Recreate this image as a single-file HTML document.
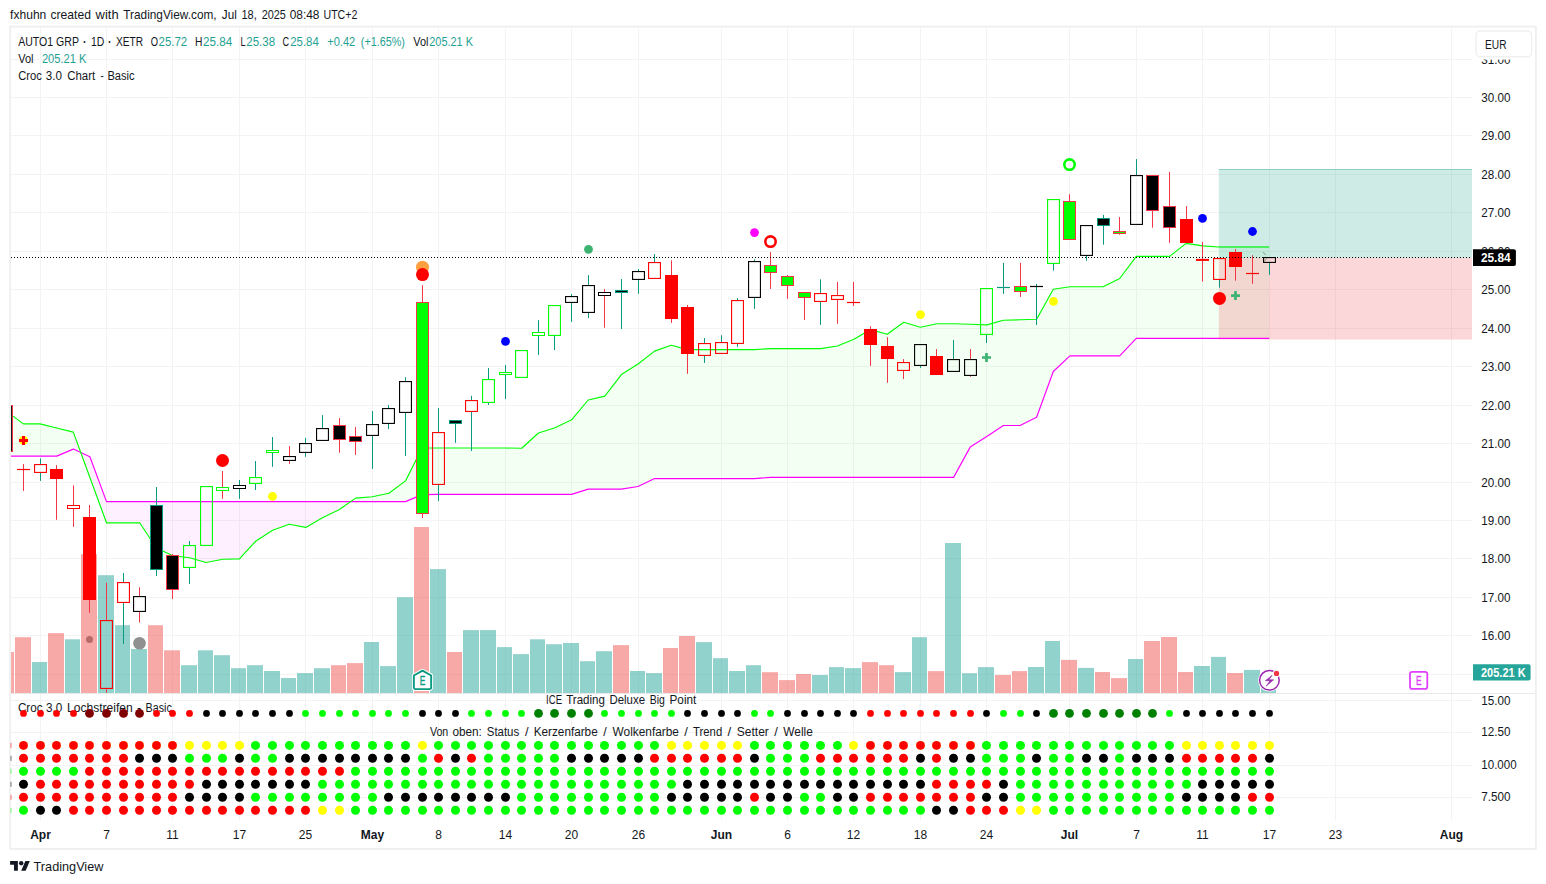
<!DOCTYPE html>
<html lang="en"><head><meta charset="utf-8"><title>AUTO1 GRP chart</title>
<style>html,body{margin:0;padding:0;background:#fff;overflow:hidden}svg{display:block}text{font-family:"Liberation Sans",sans-serif;fill:#131722}</style></head><body>
<svg width="1546" height="884" viewBox="0 0 1546 884">
<rect width="1546" height="884" fill="#fff"/>
<defs><clipPath id="cp"><rect x="10.2" y="27" width="1461.8" height="666"/></clipPath><clipPath id="cp2"><rect x="10.2" y="694" width="1461.8" height="126"/></clipPath></defs>
<g stroke="#f3f3f3" stroke-width="1" shape-rendering="crispEdges">
<line x1="40.5" y1="27.5" x2="40.5" y2="820"/>
<line x1="106.5" y1="27.5" x2="106.5" y2="820"/>
<line x1="172.5" y1="27.5" x2="172.5" y2="820"/>
<line x1="239.5" y1="27.5" x2="239.5" y2="820"/>
<line x1="305.5" y1="27.5" x2="305.5" y2="820"/>
<line x1="372.5" y1="27.5" x2="372.5" y2="820"/>
<line x1="438.5" y1="27.5" x2="438.5" y2="820"/>
<line x1="505.5" y1="27.5" x2="505.5" y2="820"/>
<line x1="571.5" y1="27.5" x2="571.5" y2="820"/>
<line x1="638.5" y1="27.5" x2="638.5" y2="820"/>
<line x1="721.5" y1="27.5" x2="721.5" y2="820"/>
<line x1="787.5" y1="27.5" x2="787.5" y2="820"/>
<line x1="853.5" y1="27.5" x2="853.5" y2="820"/>
<line x1="920.5" y1="27.5" x2="920.5" y2="820"/>
<line x1="986.5" y1="27.5" x2="986.5" y2="820"/>
<line x1="1069.5" y1="27.5" x2="1069.5" y2="820"/>
<line x1="1136.5" y1="27.5" x2="1136.5" y2="820"/>
<line x1="1202.5" y1="27.5" x2="1202.5" y2="820"/>
<line x1="1269.5" y1="27.5" x2="1269.5" y2="820"/>
<line x1="1335.5" y1="27.5" x2="1335.5" y2="820"/>
<line x1="1451.5" y1="27.5" x2="1451.5" y2="820"/>
<line x1="11" y1="674.5" x2="1472.0" y2="674.5"/>
<line x1="11" y1="635.5" x2="1472.0" y2="635.5"/>
<line x1="11" y1="597.5" x2="1472.0" y2="597.5"/>
<line x1="11" y1="558.5" x2="1472.0" y2="558.5"/>
<line x1="11" y1="520.5" x2="1472.0" y2="520.5"/>
<line x1="11" y1="482.5" x2="1472.0" y2="482.5"/>
<line x1="11" y1="443.5" x2="1472.0" y2="443.5"/>
<line x1="11" y1="405.5" x2="1472.0" y2="405.5"/>
<line x1="11" y1="366.5" x2="1472.0" y2="366.5"/>
<line x1="11" y1="328.5" x2="1472.0" y2="328.5"/>
<line x1="11" y1="289.5" x2="1472.0" y2="289.5"/>
<line x1="11" y1="251.5" x2="1472.0" y2="251.5"/>
<line x1="11" y1="212.5" x2="1472.0" y2="212.5"/>
<line x1="11" y1="174.5" x2="1472.0" y2="174.5"/>
<line x1="11" y1="135.5" x2="1472.0" y2="135.5"/>
<line x1="11" y1="97.5" x2="1472.0" y2="97.5"/>
<line x1="11" y1="59.5" x2="1472.0" y2="59.5"/>
<line x1="11" y1="700.5" x2="1472.0" y2="700.5"/>
<line x1="11" y1="732.5" x2="1472.0" y2="732.5"/>
<line x1="11" y1="765.5" x2="1472.0" y2="765.5"/>
<line x1="11" y1="797.5" x2="1472.0" y2="797.5"/>
</g>
<g clip-path="url(#cp)">
<polygon points="6.8,411.5 23.4,423.9 40.0,423.9 56.7,428.0 73.3,432.1 73.3,449.1 56.7,456.1 40.0,456.1 23.4,456.1 6.8,456.1" fill="#00ff00" fill-opacity="0.05"/>
<polygon points="73.3,432.1 89.9,477.5 106.5,522.8 123.1,522.8 139.7,522.8 156.3,548.0 172.9,555.8 189.5,557.7 206.1,562.5 222.8,559.3 239.4,558.9 256.0,541.0 272.6,530.3 289.2,524.2 305.8,527.4 322.4,517.7 339.0,509.8 339.0,501.6 322.4,501.6 305.8,501.6 289.2,501.6 272.6,501.6 256.0,501.6 239.4,501.6 222.8,501.6 206.1,501.6 189.5,501.6 172.9,501.6 156.3,501.6 139.7,501.6 123.1,501.6 106.5,501.6 89.9,456.7 73.3,449.1" fill="#ff00ff" fill-opacity="0.06"/>
<polygon points="339.0,509.8 355.6,498.1 372.2,496.7 388.9,493.2 405.5,480.9 422.1,448.0 438.7,448.0 455.3,448.0 471.9,448.0 488.5,448.0 505.1,448.0 521.7,448.2 538.4,433.0 555.0,427.7 571.6,419.8 588.2,400.0 604.8,396.1 621.4,374.6 638.0,364.0 654.6,351.1 671.2,345.3 687.8,349.6 704.5,349.6 721.1,349.6 737.7,349.6 754.3,349.6 770.9,348.6 787.5,348.6 804.1,348.6 820.7,348.6 837.3,346.0 853.9,339.3 870.6,329.6 887.2,334.3 903.8,322.3 920.4,327.2 937.0,323.7 953.6,323.7 970.2,324.3 986.8,324.9 1003.4,320.2 1020.0,319.8 1036.6,319.3 1053.3,289.3 1069.9,286.7 1086.5,286.7 1103.1,286.7 1119.7,278.5 1136.3,256.4 1152.9,256.4 1169.5,256.4 1186.1,243.4 1202.8,245.9 1219.4,247.0 1236.0,247.0 1252.6,247.0 1269.2,247.0 1269.2,338.3 1252.6,338.3 1236.0,338.3 1219.4,338.3 1202.8,338.3 1186.1,338.3 1169.5,338.3 1152.9,338.3 1136.3,338.3 1119.7,355.8 1103.1,355.8 1086.5,355.8 1069.9,355.8 1053.3,371.5 1036.6,417.3 1020.0,425.5 1003.4,425.5 986.8,436.6 970.2,447.1 953.6,477.4 937.0,477.4 920.4,477.4 903.8,477.4 887.2,477.4 870.6,477.4 853.9,477.4 837.3,477.4 820.7,477.4 804.1,477.4 787.5,477.4 770.9,477.4 754.3,478.6 737.7,478.6 721.1,478.6 704.5,478.6 687.8,478.6 671.2,478.6 654.6,478.6 638.0,486.5 621.4,489.1 604.8,489.1 588.2,489.1 571.6,494.4 555.0,494.4 538.4,494.4 521.7,494.4 505.1,494.4 488.5,494.4 471.9,494.4 455.3,494.4 438.7,494.4 422.1,494.6 405.5,501.6 388.9,501.6 372.2,501.6 355.6,501.6 339.0,501.6" fill="#00ff00" fill-opacity="0.05"/>
<rect x="1218.8" y="169.2" width="253.2" height="88.7" fill="#089981" fill-opacity="0.2"/>
<rect x="1218.8" y="257.9" width="253.2" height="81.7" fill="#f23645" fill-opacity="0.2"/>
<line x1="1218.8" y1="169.5" x2="1472.0" y2="169.5" stroke="#089981" stroke-opacity="0.35" stroke-width="1"/>
<polyline fill="none" stroke="#ff00ff" stroke-width="1.15" stroke-linejoin="round" points="6.8,456.1 23.4,456.1 40.0,456.1 56.7,456.1 73.3,449.1 89.9,456.7 106.5,501.6 123.1,501.6 139.7,501.6 156.3,501.6 172.9,501.6 189.5,501.6 206.1,501.6 222.8,501.6 239.4,501.6 256.0,501.6 272.6,501.6 289.2,501.6 305.8,501.6 322.4,501.6 339.0,501.6 355.6,501.6 372.2,501.6 388.9,501.6 405.5,501.6 422.1,494.6 438.7,494.4 455.3,494.4 471.9,494.4 488.5,494.4 505.1,494.4 521.7,494.4 538.4,494.4 555.0,494.4 571.6,494.4 588.2,489.1 604.8,489.1 621.4,489.1 638.0,486.5 654.6,478.6 671.2,478.6 687.8,478.6 704.5,478.6 721.1,478.6 737.7,478.6 754.3,478.6 770.9,477.4 787.5,477.4 804.1,477.4 820.7,477.4 837.3,477.4 853.9,477.4 870.6,477.4 887.2,477.4 903.8,477.4 920.4,477.4 937.0,477.4 953.6,477.4 970.2,447.1 986.8,436.6 1003.4,425.5 1020.0,425.5 1036.6,417.3 1053.3,371.5 1069.9,355.8 1086.5,355.8 1103.1,355.8 1119.7,355.8 1136.3,338.3 1152.9,338.3 1169.5,338.3 1186.1,338.3 1202.8,338.3 1219.4,338.3 1236.0,338.3 1252.6,338.3 1269.2,338.3"/>
<polyline fill="none" stroke="#00ff00" stroke-width="1.15" stroke-linejoin="round" points="6.8,411.5 23.4,423.9 40.0,423.9 56.7,428.0 73.3,432.1 89.9,477.5 106.5,522.8 123.1,522.8 139.7,522.8 156.3,548.0 172.9,555.8 189.5,557.7 206.1,562.5 222.8,559.3 239.4,558.9 256.0,541.0 272.6,530.3 289.2,524.2 305.8,527.4 322.4,517.7 339.0,509.8 355.6,498.1 372.2,496.7 388.9,493.2 405.5,480.9 422.1,448.0 438.7,448.0 455.3,448.0 471.9,448.0 488.5,448.0 505.1,448.0 521.7,448.2 538.4,433.0 555.0,427.7 571.6,419.8 588.2,400.0 604.8,396.1 621.4,374.6 638.0,364.0 654.6,351.1 671.2,345.3 687.8,349.6 704.5,349.6 721.1,349.6 737.7,349.6 754.3,349.6 770.9,348.6 787.5,348.6 804.1,348.6 820.7,348.6 837.3,346.0 853.9,339.3 870.6,329.6 887.2,334.3 903.8,322.3 920.4,327.2 937.0,323.7 953.6,323.7 970.2,324.3 986.8,324.9 1003.4,320.2 1020.0,319.8 1036.6,319.3 1053.3,289.3 1069.9,286.7 1086.5,286.7 1103.1,286.7 1119.7,278.5 1136.3,256.4 1152.9,256.4 1169.5,256.4 1186.1,243.4 1202.8,245.9 1219.4,247.0 1236.0,247.0 1252.6,247.0 1269.2,247.0"/>
<line x1="1219" y1="247" x2="1269" y2="247" stroke="#4cf060" stroke-width="2.2"/>
<path d="M1263 252.3l2.7 2.4M1264.4 260.9l2.4 -2.2" stroke="#8a8a8a" stroke-width="1" fill="none"/>
<circle cx="89.5" cy="639.5" r="3.5" fill="#808080"/>
<rect x="-2.0" y="652.0" width="16.0" height="41.0" fill="#ef5350" fill-opacity="0.5"/>
<rect x="15.0" y="637.2" width="16.0" height="55.8" fill="#ef5350" fill-opacity="0.5"/>
<rect x="32.0" y="662.0" width="15.0" height="31.0" fill="#26a69a" fill-opacity="0.5"/>
<rect x="48.0" y="633.1" width="16.0" height="59.9" fill="#ef5350" fill-opacity="0.5"/>
<rect x="65.0" y="639.3" width="15.0" height="53.7" fill="#26a69a" fill-opacity="0.5"/>
<rect x="81.0" y="554.2" width="16.0" height="138.8" fill="#ef5350" fill-opacity="0.5"/>
<rect x="98.0" y="575.2" width="16.0" height="117.8" fill="#26a69a" fill-opacity="0.5"/>
<rect x="115.0" y="625.2" width="15.0" height="67.8" fill="#26a69a" fill-opacity="0.5"/>
<rect x="131.0" y="649.0" width="16.0" height="44.0" fill="#26a69a" fill-opacity="0.5"/>
<rect x="148.0" y="625.2" width="15.0" height="67.8" fill="#ef5350" fill-opacity="0.5"/>
<rect x="164.0" y="650.3" width="16.0" height="42.7" fill="#ef5350" fill-opacity="0.5"/>
<rect x="181.0" y="665.2" width="16.0" height="27.8" fill="#26a69a" fill-opacity="0.5"/>
<rect x="198.0" y="650.3" width="15.0" height="42.7" fill="#26a69a" fill-opacity="0.5"/>
<rect x="214.0" y="655.2" width="16.0" height="37.8" fill="#26a69a" fill-opacity="0.5"/>
<rect x="231.0" y="668.2" width="15.0" height="24.8" fill="#26a69a" fill-opacity="0.5"/>
<rect x="247.0" y="665.2" width="16.0" height="27.8" fill="#26a69a" fill-opacity="0.5"/>
<rect x="264.0" y="671.0" width="16.0" height="22.0" fill="#26a69a" fill-opacity="0.5"/>
<rect x="281.0" y="678.0" width="15.0" height="15.0" fill="#26a69a" fill-opacity="0.5"/>
<rect x="297.0" y="673.1" width="16.0" height="19.9" fill="#26a69a" fill-opacity="0.5"/>
<rect x="314.0" y="668.2" width="16.0" height="24.8" fill="#26a69a" fill-opacity="0.5"/>
<rect x="331.0" y="665.2" width="15.0" height="27.8" fill="#ef5350" fill-opacity="0.5"/>
<rect x="347.0" y="663.1" width="16.0" height="29.9" fill="#ef5350" fill-opacity="0.5"/>
<rect x="364.0" y="642.0" width="15.0" height="51.0" fill="#26a69a" fill-opacity="0.5"/>
<rect x="380.0" y="666.1" width="16.0" height="26.9" fill="#26a69a" fill-opacity="0.5"/>
<rect x="397.0" y="597.2" width="16.0" height="95.8" fill="#26a69a" fill-opacity="0.5"/>
<rect x="414.0" y="527.0" width="15.0" height="166.0" fill="#ef5350" fill-opacity="0.5"/>
<rect x="430.0" y="569.1" width="16.0" height="123.9" fill="#26a69a" fill-opacity="0.5"/>
<rect x="447.0" y="652.0" width="15.0" height="41.0" fill="#ef5350" fill-opacity="0.5"/>
<rect x="463.0" y="630.1" width="16.0" height="62.9" fill="#26a69a" fill-opacity="0.5"/>
<rect x="480.0" y="630.1" width="16.0" height="62.9" fill="#26a69a" fill-opacity="0.5"/>
<rect x="497.0" y="647.1" width="15.0" height="45.9" fill="#26a69a" fill-opacity="0.5"/>
<rect x="513.0" y="654.1" width="16.0" height="38.9" fill="#26a69a" fill-opacity="0.5"/>
<rect x="530.0" y="639.3" width="15.0" height="53.7" fill="#26a69a" fill-opacity="0.5"/>
<rect x="546.0" y="644.2" width="16.0" height="48.8" fill="#26a69a" fill-opacity="0.5"/>
<rect x="563.0" y="643.0" width="16.0" height="50.0" fill="#26a69a" fill-opacity="0.5"/>
<rect x="580.0" y="661.2" width="15.0" height="31.8" fill="#26a69a" fill-opacity="0.5"/>
<rect x="596.0" y="651.2" width="16.0" height="41.8" fill="#26a69a" fill-opacity="0.5"/>
<rect x="613.0" y="645.1" width="16.0" height="47.9" fill="#ef5350" fill-opacity="0.5"/>
<rect x="630.0" y="671.0" width="15.0" height="22.0" fill="#26a69a" fill-opacity="0.5"/>
<rect x="646.0" y="673.1" width="16.0" height="19.9" fill="#26a69a" fill-opacity="0.5"/>
<rect x="663.0" y="648.0" width="15.0" height="45.0" fill="#ef5350" fill-opacity="0.5"/>
<rect x="679.0" y="636.0" width="16.0" height="57.0" fill="#ef5350" fill-opacity="0.5"/>
<rect x="696.0" y="642.1" width="16.0" height="50.9" fill="#26a69a" fill-opacity="0.5"/>
<rect x="713.0" y="658.2" width="15.0" height="34.8" fill="#26a69a" fill-opacity="0.5"/>
<rect x="729.0" y="671.0" width="16.0" height="22.0" fill="#26a69a" fill-opacity="0.5"/>
<rect x="746.0" y="665.2" width="15.0" height="27.8" fill="#26a69a" fill-opacity="0.5"/>
<rect x="762.0" y="672.2" width="16.0" height="20.8" fill="#ef5350" fill-opacity="0.5"/>
<rect x="779.0" y="680.1" width="16.0" height="12.9" fill="#ef5350" fill-opacity="0.5"/>
<rect x="796.0" y="674.0" width="15.0" height="19.0" fill="#ef5350" fill-opacity="0.5"/>
<rect x="812.0" y="675.0" width="16.0" height="18.0" fill="#26a69a" fill-opacity="0.5"/>
<rect x="829.0" y="667.1" width="15.0" height="25.9" fill="#26a69a" fill-opacity="0.5"/>
<rect x="845.0" y="668.1" width="16.0" height="24.9" fill="#26a69a" fill-opacity="0.5"/>
<rect x="862.0" y="662.1" width="16.0" height="30.9" fill="#ef5350" fill-opacity="0.5"/>
<rect x="879.0" y="665.2" width="15.0" height="27.8" fill="#ef5350" fill-opacity="0.5"/>
<rect x="895.0" y="672.1" width="16.0" height="20.9" fill="#26a69a" fill-opacity="0.5"/>
<rect x="912.0" y="637.2" width="15.0" height="55.8" fill="#26a69a" fill-opacity="0.5"/>
<rect x="928.0" y="671.1" width="16.0" height="21.9" fill="#ef5350" fill-opacity="0.5"/>
<rect x="945.0" y="543.0" width="16.0" height="150.0" fill="#26a69a" fill-opacity="0.5"/>
<rect x="962.0" y="673.2" width="15.0" height="19.8" fill="#26a69a" fill-opacity="0.5"/>
<rect x="978.0" y="667.1" width="16.0" height="25.9" fill="#26a69a" fill-opacity="0.5"/>
<rect x="995.0" y="675.0" width="16.0" height="18.0" fill="#ef5350" fill-opacity="0.5"/>
<rect x="1012.0" y="671.1" width="15.0" height="21.9" fill="#ef5350" fill-opacity="0.5"/>
<rect x="1028.0" y="667.0" width="16.0" height="26.0" fill="#26a69a" fill-opacity="0.5"/>
<rect x="1045.0" y="641.0" width="15.0" height="52.0" fill="#26a69a" fill-opacity="0.5"/>
<rect x="1061.0" y="659.9" width="16.0" height="33.1" fill="#ef5350" fill-opacity="0.5"/>
<rect x="1078.0" y="667.9" width="16.0" height="25.1" fill="#26a69a" fill-opacity="0.5"/>
<rect x="1095.0" y="672.0" width="15.0" height="21.0" fill="#ef5350" fill-opacity="0.5"/>
<rect x="1111.0" y="678.1" width="16.0" height="14.9" fill="#ef5350" fill-opacity="0.5"/>
<rect x="1128.0" y="659.0" width="15.0" height="34.0" fill="#26a69a" fill-opacity="0.5"/>
<rect x="1144.0" y="641.0" width="16.0" height="52.0" fill="#ef5350" fill-opacity="0.5"/>
<rect x="1161.0" y="637.0" width="16.0" height="56.0" fill="#ef5350" fill-opacity="0.5"/>
<rect x="1178.0" y="672.0" width="15.0" height="21.0" fill="#ef5350" fill-opacity="0.5"/>
<rect x="1194.0" y="666.0" width="16.0" height="27.0" fill="#26a69a" fill-opacity="0.5"/>
<rect x="1211.0" y="656.9" width="15.0" height="36.1" fill="#26a69a" fill-opacity="0.5"/>
<rect x="1227.0" y="673.0" width="16.0" height="20.0" fill="#ef5350" fill-opacity="0.5"/>
<rect x="1244.0" y="669.9" width="16.0" height="23.1" fill="#26a69a" fill-opacity="0.5"/>
<rect x="1261.0" y="676.0" width="15.0" height="17.0" fill="#26a69a" fill-opacity="0.5"/>
<rect x="6.0" y="400.0" width="1" height="5.0" fill="#f23645"/>
<rect x="6.0" y="452.0" width="1" height="6.0" fill="#f23645"/>
<rect x="0.5" y="405.5" width="12" height="46.0" fill="#000000" stroke="#f23645" stroke-width="1"/>
<rect x="23.0" y="464.0" width="1" height="5.5" fill="#f23645"/>
<rect x="23.0" y="469.5" width="1" height="21.4" fill="#f23645"/>
<rect x="17.0" y="468.9" width="13" height="1.2" fill="#ff0000"/>
<rect x="40.0" y="458.4" width="1" height="5.6" fill="#089981"/>
<rect x="40.0" y="473.0" width="1" height="7.9" fill="#089981"/>
<rect x="34.58" y="464.57" width="11.85" height="7.85" fill="none" stroke="#ff0000" stroke-width="1.1"/>
<rect x="56.0" y="465.1" width="1" height="3.9" fill="#f23645"/>
<rect x="56.0" y="479.0" width="1" height="40.8" fill="#f23645"/>
<rect x="50.0" y="469.0" width="13" height="10.0" fill="#ff0000"/>
<rect x="73.0" y="485.3" width="1" height="19.7" fill="#f23645"/>
<rect x="73.0" y="509.0" width="1" height="17.8" fill="#f23645"/>
<rect x="67.50" y="505.50" width="12.00" height="3.00" fill="none" stroke="#ff0000" stroke-width="1.0"/>
<rect x="89.0" y="505.0" width="1" height="12.0" fill="#f23645"/>
<rect x="89.0" y="600.0" width="1" height="12.7" fill="#f23645"/>
<rect x="83.0" y="517.0" width="13" height="83.0" fill="#ff0000"/>
<rect x="106.0" y="582.8" width="1" height="37.2" fill="#f23645"/>
<rect x="106.0" y="689.0" width="1" height="3.8" fill="#f23645"/>
<rect x="100.58" y="620.58" width="11.85" height="67.85" fill="none" stroke="#ff0000" stroke-width="1.1"/>
<rect x="123.0" y="573.0" width="1" height="9.0" fill="#089981"/>
<rect x="123.0" y="603.0" width="1" height="40.9" fill="#089981"/>
<rect x="117.58" y="582.58" width="11.85" height="19.85" fill="none" stroke="#ff0000" stroke-width="1.1"/>
<rect x="139.0" y="587.2" width="1" height="8.8" fill="#f23645"/>
<rect x="139.0" y="612.0" width="1" height="10.6" fill="#f23645"/>
<rect x="133.57" y="596.58" width="11.85" height="14.85" fill="none" stroke="#000000" stroke-width="1.1"/>
<rect x="156.0" y="487.0" width="1" height="18.0" fill="#089981"/>
<rect x="156.0" y="570.0" width="1" height="6.0" fill="#089981"/>
<rect x="150.5" y="505.5" width="12" height="64.0" fill="#000000" stroke="#089981" stroke-width="1"/>
<rect x="172.0" y="554.0" width="1" height="1.0" fill="#f23645"/>
<rect x="172.0" y="590.0" width="1" height="9.0" fill="#f23645"/>
<rect x="166.5" y="555.5" width="12" height="34.0" fill="#000000" stroke="#f23645" stroke-width="1"/>
<rect x="189.0" y="541.0" width="1" height="4.0" fill="#089981"/>
<rect x="189.0" y="568.0" width="1" height="15.9" fill="#089981"/>
<rect x="183.57" y="545.58" width="11.85" height="21.85" fill="none" stroke="#00ff00" stroke-width="1.1"/>
<rect x="200.57" y="486.57" width="11.85" height="58.85" fill="none" stroke="#00ff00" stroke-width="1.1"/>
<rect x="222.0" y="471.0" width="1" height="16.0" fill="#f23645"/>
<rect x="222.0" y="491.0" width="1" height="7.8" fill="#f23645"/>
<rect x="216.50" y="487.50" width="12.00" height="3.00" fill="none" stroke="#00ff00" stroke-width="1.0"/>
<rect x="239.0" y="480.0" width="1" height="5.0" fill="#089981"/>
<rect x="239.0" y="489.0" width="1" height="9.8" fill="#089981"/>
<rect x="233.50" y="485.50" width="12.00" height="3.00" fill="none" stroke="#000000" stroke-width="1.0"/>
<rect x="255.0" y="461.0" width="1" height="16.0" fill="#089981"/>
<rect x="255.0" y="484.0" width="1" height="6.0" fill="#089981"/>
<rect x="249.57" y="477.57" width="11.85" height="5.85" fill="none" stroke="#00ff00" stroke-width="1.1"/>
<rect x="272.0" y="437.0" width="1" height="13.0" fill="#089981"/>
<rect x="272.0" y="453.0" width="1" height="13.8" fill="#089981"/>
<rect x="266.50" y="450.50" width="12.00" height="2.00" fill="none" stroke="#00ff00" stroke-width="1.0"/>
<rect x="289.0" y="446.1" width="1" height="9.9" fill="#f23645"/>
<rect x="289.0" y="461.0" width="1" height="2.9" fill="#f23645"/>
<rect x="283.57" y="456.57" width="11.85" height="3.85" fill="none" stroke="#000000" stroke-width="1.1"/>
<rect x="305.0" y="437.9" width="1" height="5.1" fill="#089981"/>
<rect x="305.0" y="453.0" width="1" height="3.8" fill="#089981"/>
<rect x="299.57" y="443.57" width="11.85" height="8.85" fill="none" stroke="#000000" stroke-width="1.1"/>
<rect x="322.0" y="415.1" width="1" height="12.9" fill="#089981"/>
<rect x="316.57" y="428.57" width="11.85" height="11.85" fill="none" stroke="#000000" stroke-width="1.1"/>
<rect x="339.0" y="418.1" width="1" height="6.9" fill="#f23645"/>
<rect x="339.0" y="440.0" width="1" height="12.8" fill="#f23645"/>
<rect x="333.5" y="425.5" width="12" height="14.0" fill="#000000" stroke="#f23645" stroke-width="1"/>
<rect x="355.0" y="427.0" width="1" height="9.0" fill="#f23645"/>
<rect x="355.0" y="442.0" width="1" height="12.9" fill="#f23645"/>
<rect x="349.5" y="436.5" width="12" height="5.0" fill="#000000" stroke="#f23645" stroke-width="1"/>
<rect x="372.0" y="411.0" width="1" height="13.0" fill="#089981"/>
<rect x="372.0" y="436.0" width="1" height="32.9" fill="#089981"/>
<rect x="366.57" y="424.57" width="11.85" height="10.85" fill="none" stroke="#000000" stroke-width="1.1"/>
<rect x="388.0" y="405.1" width="1" height="2.9" fill="#089981"/>
<rect x="388.0" y="424.0" width="1" height="5.1" fill="#089981"/>
<rect x="382.57" y="408.57" width="11.85" height="14.85" fill="none" stroke="#000000" stroke-width="1.1"/>
<rect x="405.0" y="377.2" width="1" height="3.8" fill="#089981"/>
<rect x="405.0" y="413.0" width="1" height="43.0" fill="#089981"/>
<rect x="399.57" y="381.57" width="11.85" height="30.85" fill="none" stroke="#000000" stroke-width="1.1"/>
<rect x="422.0" y="285.3" width="1" height="16.7" fill="#f23645"/>
<rect x="422.0" y="514.0" width="1" height="4.0" fill="#f23645"/>
<rect x="416.5" y="302.5" width="12" height="211.0" fill="#00ff00" stroke="#f23645" stroke-width="1"/>
<rect x="438.0" y="408.0" width="1" height="24.0" fill="#089981"/>
<rect x="438.0" y="485.0" width="1" height="16.0" fill="#089981"/>
<rect x="432.57" y="432.57" width="11.85" height="51.85" fill="none" stroke="#ff0000" stroke-width="1.1"/>
<rect x="455.0" y="424.0" width="1" height="18.8" fill="#089981"/>
<rect x="449.5" y="420.5" width="12" height="3.0" fill="#000000" stroke="#089981" stroke-width="1"/>
<rect x="471.0" y="395.8" width="1" height="4.2" fill="#089981"/>
<rect x="471.0" y="412.0" width="1" height="39.0" fill="#089981"/>
<rect x="465.57" y="400.57" width="11.85" height="10.85" fill="none" stroke="#ff0000" stroke-width="1.1"/>
<rect x="488.0" y="368.0" width="1" height="11.0" fill="#089981"/>
<rect x="488.0" y="403.0" width="1" height="2.0" fill="#089981"/>
<rect x="482.57" y="379.57" width="11.85" height="22.85" fill="none" stroke="#00ff00" stroke-width="1.1"/>
<rect x="505.0" y="365.0" width="1" height="7.0" fill="#089981"/>
<rect x="505.0" y="375.0" width="1" height="24.0" fill="#089981"/>
<rect x="499.50" y="372.50" width="12.00" height="2.00" fill="none" stroke="#00ff00" stroke-width="1.0"/>
<rect x="515.58" y="350.57" width="11.85" height="26.85" fill="none" stroke="#00ff00" stroke-width="1.1"/>
<rect x="538.0" y="320.2" width="1" height="11.8" fill="#089981"/>
<rect x="538.0" y="336.0" width="1" height="18.9" fill="#089981"/>
<rect x="532.50" y="332.50" width="12.00" height="3.00" fill="none" stroke="#00ff00" stroke-width="1.0"/>
<rect x="554.0" y="336.0" width="1" height="14.0" fill="#089981"/>
<rect x="548.58" y="305.57" width="11.85" height="29.85" fill="none" stroke="#00ff00" stroke-width="1.1"/>
<rect x="571.0" y="294.0" width="1" height="2.0" fill="#089981"/>
<rect x="571.0" y="303.0" width="1" height="18.9" fill="#089981"/>
<rect x="565.58" y="296.57" width="11.85" height="5.85" fill="none" stroke="#000000" stroke-width="1.1"/>
<rect x="588.0" y="275.1" width="1" height="9.9" fill="#089981"/>
<rect x="588.0" y="313.0" width="1" height="5.1" fill="#089981"/>
<rect x="582.58" y="285.57" width="11.85" height="26.85" fill="none" stroke="#000000" stroke-width="1.1"/>
<rect x="604.0" y="289.1" width="1" height="2.9" fill="#f23645"/>
<rect x="604.0" y="296.0" width="1" height="31.7" fill="#f23645"/>
<rect x="598.50" y="292.50" width="12.00" height="3.00" fill="none" stroke="#000000" stroke-width="1.0"/>
<rect x="621.0" y="279.0" width="1" height="11.0" fill="#089981"/>
<rect x="621.0" y="293.0" width="1" height="36.0" fill="#089981"/>
<rect x="615.5" y="290.5" width="12" height="2.0" fill="#000000" stroke="#089981" stroke-width="1"/>
<rect x="638.0" y="269.0" width="1" height="2.0" fill="#089981"/>
<rect x="638.0" y="280.0" width="1" height="13.8" fill="#089981"/>
<rect x="632.58" y="271.57" width="11.85" height="7.85" fill="none" stroke="#000000" stroke-width="1.1"/>
<rect x="654.0" y="254.1" width="1" height="7.9" fill="#089981"/>
<rect x="648.58" y="262.57" width="11.85" height="15.85" fill="none" stroke="#ff0000" stroke-width="1.1"/>
<rect x="671.0" y="260.3" width="1" height="14.7" fill="#f23645"/>
<rect x="671.0" y="319.0" width="1" height="3.9" fill="#f23645"/>
<rect x="665.0" y="275.0" width="13" height="44.0" fill="#ff0000"/>
<rect x="687.0" y="305.0" width="1" height="2.0" fill="#f23645"/>
<rect x="687.0" y="354.0" width="1" height="19.8" fill="#f23645"/>
<rect x="681.0" y="307.0" width="13" height="47.0" fill="#ff0000"/>
<rect x="704.0" y="338.0" width="1" height="5.0" fill="#089981"/>
<rect x="704.0" y="356.0" width="1" height="6.9" fill="#089981"/>
<rect x="698.58" y="343.57" width="11.85" height="11.85" fill="none" stroke="#ff0000" stroke-width="1.1"/>
<rect x="721.0" y="335.2" width="1" height="6.8" fill="#089981"/>
<rect x="715.58" y="342.57" width="11.85" height="10.85" fill="none" stroke="#ff0000" stroke-width="1.1"/>
<rect x="737.0" y="298.0" width="1" height="2.0" fill="#089981"/>
<rect x="737.0" y="344.0" width="1" height="2.8" fill="#089981"/>
<rect x="731.58" y="300.57" width="11.85" height="42.85" fill="none" stroke="#ff0000" stroke-width="1.1"/>
<rect x="754.0" y="259.4" width="1" height="1.6" fill="#089981"/>
<rect x="754.0" y="298.0" width="1" height="10.9" fill="#089981"/>
<rect x="748.58" y="261.57" width="11.85" height="35.85" fill="none" stroke="#000000" stroke-width="1.1"/>
<rect x="770.0" y="252.1" width="1" height="12.9" fill="#f23645"/>
<rect x="770.0" y="273.0" width="1" height="15.9" fill="#f23645"/>
<rect x="764.5" y="265.5" width="12" height="7.0" fill="#00ff00" stroke="#f23645" stroke-width="1"/>
<rect x="787.0" y="275.0" width="1" height="1.0" fill="#f23645"/>
<rect x="787.0" y="286.0" width="1" height="12.9" fill="#f23645"/>
<rect x="781.5" y="276.5" width="12" height="9.0" fill="#00ff00" stroke="#f23645" stroke-width="1"/>
<rect x="804.0" y="298.0" width="1" height="22.0" fill="#f23645"/>
<rect x="798.5" y="292.5" width="12" height="5.0" fill="#00ff00" stroke="#f23645" stroke-width="1"/>
<rect x="820.0" y="279.3" width="1" height="13.7" fill="#089981"/>
<rect x="820.0" y="302.0" width="1" height="22.9" fill="#089981"/>
<rect x="814.58" y="293.57" width="11.85" height="7.85" fill="none" stroke="#ff0000" stroke-width="1.1"/>
<rect x="837.0" y="281.9" width="1" height="13.1" fill="#f23645"/>
<rect x="837.0" y="300.0" width="1" height="23.8" fill="#f23645"/>
<rect x="831.58" y="295.57" width="11.85" height="3.85" fill="none" stroke="#ff0000" stroke-width="1.1"/>
<rect x="853.0" y="282.0" width="1" height="20.3" fill="#f23645"/>
<rect x="853.0" y="302.3" width="1" height="3.7" fill="#f23645"/>
<rect x="847.0" y="301.9" width="13" height="1.2" fill="#ff0000"/>
<rect x="870.0" y="326.2" width="1" height="2.8" fill="#f23645"/>
<rect x="870.0" y="345.0" width="1" height="20.9" fill="#f23645"/>
<rect x="864.0" y="329.0" width="13" height="16.0" fill="#ff0000"/>
<rect x="887.0" y="337.2" width="1" height="8.8" fill="#f23645"/>
<rect x="887.0" y="359.0" width="1" height="23.8" fill="#f23645"/>
<rect x="881.0" y="346.0" width="13" height="13.0" fill="#ff0000"/>
<rect x="903.0" y="359.1" width="1" height="2.9" fill="#f23645"/>
<rect x="903.0" y="371.0" width="1" height="8.0" fill="#f23645"/>
<rect x="897.58" y="362.57" width="11.85" height="7.85" fill="none" stroke="#ff0000" stroke-width="1.1"/>
<rect x="920.0" y="366.0" width="1" height="1.9" fill="#089981"/>
<rect x="914.58" y="344.57" width="11.85" height="20.85" fill="none" stroke="#000000" stroke-width="1.1"/>
<rect x="936.0" y="349.1" width="1" height="6.9" fill="#f23645"/>
<rect x="930.0" y="356.0" width="13" height="19.0" fill="#ff0000"/>
<rect x="953.0" y="340.0" width="1" height="19.0" fill="#089981"/>
<rect x="947.58" y="359.57" width="11.85" height="11.85" fill="none" stroke="#000000" stroke-width="1.1"/>
<rect x="970.0" y="349.1" width="1" height="9.9" fill="#f23645"/>
<rect x="970.0" y="376.0" width="1" height="0.8" fill="#f23645"/>
<rect x="964.58" y="359.57" width="11.85" height="15.85" fill="none" stroke="#000000" stroke-width="1.1"/>
<rect x="986.0" y="335.0" width="1" height="8.0" fill="#089981"/>
<rect x="980.58" y="288.57" width="11.85" height="45.85" fill="none" stroke="#00ff00" stroke-width="1.1"/>
<rect x="1003.0" y="262.8" width="1" height="24.6" fill="#089981"/>
<rect x="1003.0" y="287.4" width="1" height="6.5" fill="#089981"/>
<rect x="997.0" y="286.9" width="13" height="1.2" fill="#089981"/>
<rect x="1020.0" y="262.8" width="1" height="23.2" fill="#f23645"/>
<rect x="1020.0" y="292.0" width="1" height="5.0" fill="#f23645"/>
<rect x="1014.5" y="286.5" width="12" height="5.0" fill="#00ff00" stroke="#f23645" stroke-width="1"/>
<rect x="1036.0" y="283.9" width="1" height="2.4" fill="#089981"/>
<rect x="1036.0" y="286.3" width="1" height="38.6" fill="#089981"/>
<rect x="1030.0" y="285.9" width="13" height="1.2" fill="#000000"/>
<rect x="1053.0" y="264.0" width="1" height="6.6" fill="#089981"/>
<rect x="1047.58" y="199.57" width="11.85" height="63.85" fill="none" stroke="#00ff00" stroke-width="1.1"/>
<rect x="1069.0" y="194.2" width="1" height="6.8" fill="#f23645"/>
<rect x="1063.5" y="201.5" width="12" height="38.0" fill="#00ff00" stroke="#f23645" stroke-width="1"/>
<rect x="1086.0" y="256.0" width="1" height="4.8" fill="#089981"/>
<rect x="1080.58" y="225.57" width="11.85" height="29.85" fill="none" stroke="#000000" stroke-width="1.1"/>
<rect x="1103.0" y="214.9" width="1" height="3.1" fill="#089981"/>
<rect x="1103.0" y="226.0" width="1" height="18.7" fill="#089981"/>
<rect x="1097.5" y="218.5" width="12" height="7.0" fill="#000000" stroke="#089981" stroke-width="1"/>
<rect x="1119.0" y="217.0" width="1" height="14.0" fill="#f23645"/>
<rect x="1119.0" y="234.0" width="1" height="0.7" fill="#f23645"/>
<rect x="1113.5" y="231.5" width="12" height="2.0" fill="#00ff00" stroke="#f23645" stroke-width="1"/>
<rect x="1136.0" y="159.1" width="1" height="15.9" fill="#089981"/>
<rect x="1130.58" y="175.57" width="11.85" height="48.85" fill="none" stroke="#000000" stroke-width="1.1"/>
<rect x="1152.0" y="211.0" width="1" height="16.7" fill="#f23645"/>
<rect x="1146.5" y="175.5" width="12" height="35.0" fill="#000000" stroke="#f23645" stroke-width="1"/>
<rect x="1169.0" y="171.9" width="1" height="34.1" fill="#f23645"/>
<rect x="1169.0" y="228.0" width="1" height="14.9" fill="#f23645"/>
<rect x="1163.5" y="206.5" width="12" height="21.0" fill="#000000" stroke="#f23645" stroke-width="1"/>
<rect x="1186.0" y="206.1" width="1" height="12.9" fill="#f23645"/>
<rect x="1180.0" y="219.0" width="13" height="24.0" fill="#ff0000"/>
<rect x="1202.0" y="242.0" width="1" height="18.1" fill="#f23645"/>
<rect x="1202.0" y="260.1" width="1" height="21.4" fill="#f23645"/>
<rect x="1196.0" y="258.9" width="13" height="2.0" fill="#ff0000"/>
<rect x="1219.0" y="280.0" width="1" height="7.6" fill="#089981"/>
<rect x="1213.58" y="258.57" width="11.85" height="20.85" fill="none" stroke="#ff0000" stroke-width="1.1"/>
<rect x="1235.0" y="249.0" width="1" height="3.0" fill="#f23645"/>
<rect x="1235.0" y="267.0" width="1" height="13.6" fill="#f23645"/>
<rect x="1229.0" y="252.0" width="13" height="15.0" fill="#ff0000"/>
<rect x="1252.0" y="255.2" width="1" height="18.4" fill="#f23645"/>
<rect x="1252.0" y="273.6" width="1" height="10.2" fill="#f23645"/>
<rect x="1246.0" y="272.9" width="13" height="1.2" fill="#ff0000"/>
<rect x="1269.0" y="263.0" width="1" height="11.8" fill="#089981"/>
<rect x="1263.58" y="257.57" width="11.85" height="4.85" fill="none" stroke="#000000" stroke-width="1.1"/>
<circle cx="23.5" cy="440.4" r="4.5" fill="#ffff00"/>
<path d="M19.0 440.4h9.0M23.5 435.9v9.0" stroke="#ff0000" stroke-width="3.0" fill="none"/>
<circle cx="139.5" cy="643.3" r="6.3" fill="#909090"/>
<circle cx="222.5" cy="460.5" r="6.5" fill="#ff0000"/>
<circle cx="272.5" cy="496.4" r="4.4" fill="#ffff00"/>
<circle cx="422.5" cy="267.2" r="6.5" fill="#ffa040"/>
<circle cx="422.5" cy="274.6" r="6.5" fill="#ff0000"/>
<circle cx="505.5" cy="341.4" r="4.4" fill="#0000ff"/>
<circle cx="588.5" cy="249.3" r="4.4" fill="#3cb371"/>
<circle cx="754.5" cy="232.6" r="4.4" fill="#ff00ff"/>
<circle cx="770.5" cy="241.6" r="5.2" fill="none" stroke="#ff0000" stroke-width="2.6"/>
<circle cx="920.5" cy="314.6" r="4.4" fill="#ffff00"/>
<path d="M982.0 357.5h9.0M986.5 353.0v9.0" stroke="#3cb371" stroke-width="2.7" fill="none"/>
<circle cx="1053.5" cy="301.4" r="4.4" fill="#ffff00"/>
<circle cx="1069.5" cy="164.6" r="5.2" fill="none" stroke="#00ff00" stroke-width="2.6"/>
<circle cx="1202.5" cy="218.4" r="4.4" fill="#0000ff"/>
<circle cx="1219.5" cy="298.4" r="6.5" fill="#ff0000"/>
<path d="M1231.0 295.6h9.0M1235.5 291.1v9.0" stroke="#3cb371" stroke-width="2.7" fill="none"/>
<circle cx="1252.5" cy="231.5" r="4.4" fill="#0000ff"/>
</g>
<line x1="11" y1="257.5" x2="1472.0" y2="257.5" stroke="#000" stroke-width="1" stroke-dasharray="1 2" shape-rendering="crispEdges"/>
<path d="M413.85 687.6V675.5L422.50 670.7L431.15 675.5V687.6a1.5 1.5 0 0 1 -1.5 1.5h-14.3a1.5 1.5 0 0 1 -1.5 -1.5z" fill="#fff" stroke="#fff" stroke-width="3.8" stroke-linejoin="round"/>
<path d="M413.85 687.6V675.5L422.50 670.7L431.15 675.5V687.6a1.5 1.5 0 0 1 -1.5 1.5h-14.3a1.5 1.5 0 0 1 -1.5 -1.5z" fill="#fff" stroke="#089981" stroke-width="1.9" stroke-linejoin="round"/>
<text x="419.7" y="684.9" font-size="12.3" textLength="5.6" lengthAdjust="spacingAndGlyphs" style="fill:#089981;stroke:#089981;stroke-width:0.35">E</text>
<circle cx="1269.4" cy="680.3" r="11.2" fill="#fff"/>
<circle cx="1269.4" cy="680.3" r="9.8" fill="#fff" stroke="#9c27b0" stroke-width="1.5"/>
<path d="M1272.1 675.3L1265.4 680.7h4.7L1266.2 686.1L1273.6 679.8h-4.7z" fill="#9c27b0" stroke="#9c27b0" stroke-width="0.6" stroke-linejoin="round"/>
<circle cx="1276.5" cy="673.4" r="3.7" fill="#fff"/><circle cx="1276.5" cy="673.4" r="2.65" fill="#f23645"/>
<rect x="1410.0" y="671.8" width="17.3" height="17.1" rx="2.2" fill="#fff" stroke="#e040fb" stroke-width="1.8"/>
<text x="1416.0" y="684.8" font-size="12.3" textLength="5.6" lengthAdjust="spacingAndGlyphs" style="fill:#e040fb;stroke:#e040fb;stroke-width:0.3">E</text>
<line x1="10" y1="693.5" x2="1536" y2="693.5" stroke="#e9e9e9" stroke-width="1.2"/>
<text y="712.4" font-size="12"><tspan x="17.9" textLength="24.7" lengthAdjust="spacingAndGlyphs">Croc</tspan> <tspan x="46.1" textLength="16.3" lengthAdjust="spacingAndGlyphs">3.0</tspan> <tspan x="67.0" textLength="65.8" lengthAdjust="spacingAndGlyphs">Lochstreifen</tspan> <tspan x="136.9" textLength="4.1" lengthAdjust="spacingAndGlyphs">-</tspan> <tspan x="145.6" textLength="26.2" lengthAdjust="spacingAndGlyphs">Basic</tspan></text>
<text y="703.8" font-size="12"><tspan x="546.1" textLength="15.9" lengthAdjust="spacingAndGlyphs">ICE</tspan> <tspan x="566.2" textLength="38.7" lengthAdjust="spacingAndGlyphs">Trading</tspan> <tspan x="609.5" textLength="35.5" lengthAdjust="spacingAndGlyphs">Deluxe</tspan> <tspan x="649.7" textLength="15.1" lengthAdjust="spacingAndGlyphs">Big</tspan> <tspan x="669.5" textLength="26.8" lengthAdjust="spacingAndGlyphs">Point</tspan></text>
<text y="735.7" font-size="12"><tspan x="429.9" textLength="18.4" lengthAdjust="spacingAndGlyphs">Von</tspan> <tspan x="452.4" textLength="29.5" lengthAdjust="spacingAndGlyphs">oben:</tspan> <tspan x="486.8" textLength="32.4" lengthAdjust="spacingAndGlyphs">Status</tspan> <tspan x="524.9" textLength="3.6" lengthAdjust="spacingAndGlyphs">/</tspan> <tspan x="533.7" textLength="64.0" lengthAdjust="spacingAndGlyphs">Kerzenfarbe</tspan> <tspan x="603.3" textLength="3.5" lengthAdjust="spacingAndGlyphs">/</tspan> <tspan x="612.6" textLength="66.3" lengthAdjust="spacingAndGlyphs">Wolkenfarbe</tspan> <tspan x="684.3" textLength="3.6" lengthAdjust="spacingAndGlyphs">/</tspan> <tspan x="693.1" textLength="29.1" lengthAdjust="spacingAndGlyphs">Trend</tspan> <tspan x="727.6" textLength="3.7" lengthAdjust="spacingAndGlyphs">/</tspan> <tspan x="736.8" textLength="32.0" lengthAdjust="spacingAndGlyphs">Setter</tspan> <tspan x="774.2" textLength="3.6" lengthAdjust="spacingAndGlyphs">/</tspan> <tspan x="783.3" textLength="29.5" lengthAdjust="spacingAndGlyphs">Welle</tspan></text>
<g clip-path="url(#cp2)">
<circle cx="23.5" cy="713.4" r="3.4" fill="#ff0000"/>
<circle cx="40.5" cy="713.4" r="3.4" fill="#ff0000"/>
<circle cx="56.5" cy="713.4" r="3.4" fill="#ff0000"/>
<circle cx="73.5" cy="713.4" r="3.4" fill="#ff0000"/>
<circle cx="89.5" cy="713.4" r="4.4" fill="#800000"/>
<circle cx="106.5" cy="713.4" r="4.4" fill="#800000"/>
<circle cx="123.5" cy="713.4" r="4.4" fill="#800000"/>
<circle cx="139.5" cy="713.4" r="4.4" fill="#800000"/>
<circle cx="156.5" cy="713.4" r="3.4" fill="#ff0000"/>
<circle cx="172.5" cy="713.4" r="3.4" fill="#ff0000"/>
<circle cx="189.5" cy="713.4" r="3.4" fill="#ff0000"/>
<circle cx="206.5" cy="713.4" r="3.4" fill="#000000"/>
<circle cx="222.5" cy="713.4" r="3.4" fill="#000000"/>
<circle cx="239.5" cy="713.4" r="3.4" fill="#000000"/>
<circle cx="255.5" cy="713.4" r="3.4" fill="#000000"/>
<circle cx="272.5" cy="713.4" r="3.4" fill="#000000"/>
<circle cx="289.5" cy="713.4" r="3.4" fill="#000000"/>
<circle cx="305.5" cy="713.4" r="3.4" fill="#00ff00"/>
<circle cx="322.5" cy="713.4" r="3.4" fill="#00ff00"/>
<circle cx="339.5" cy="713.4" r="3.4" fill="#00ff00"/>
<circle cx="355.5" cy="713.4" r="3.4" fill="#00ff00"/>
<circle cx="372.5" cy="713.4" r="3.4" fill="#00ff00"/>
<circle cx="388.5" cy="713.4" r="3.4" fill="#00ff00"/>
<circle cx="405.5" cy="713.4" r="3.4" fill="#00ff00"/>
<circle cx="422.5" cy="713.4" r="3.4" fill="#000000"/>
<circle cx="438.5" cy="713.4" r="3.4" fill="#000000"/>
<circle cx="455.5" cy="713.4" r="3.4" fill="#000000"/>
<circle cx="471.5" cy="713.4" r="3.4" fill="#00ff00"/>
<circle cx="488.5" cy="713.4" r="3.4" fill="#00ff00"/>
<circle cx="505.5" cy="713.4" r="3.4" fill="#00ff00"/>
<circle cx="521.5" cy="713.4" r="3.4" fill="#00ff00"/>
<circle cx="538.5" cy="713.4" r="4.4" fill="#008000"/>
<circle cx="554.5" cy="713.4" r="4.4" fill="#008000"/>
<circle cx="571.5" cy="713.4" r="4.4" fill="#008000"/>
<circle cx="588.5" cy="713.4" r="4.4" fill="#008000"/>
<circle cx="604.5" cy="713.4" r="3.4" fill="#00ff00"/>
<circle cx="621.5" cy="713.4" r="3.4" fill="#00ff00"/>
<circle cx="638.5" cy="713.4" r="3.4" fill="#00ff00"/>
<circle cx="654.5" cy="713.4" r="3.4" fill="#00ff00"/>
<circle cx="671.5" cy="713.4" r="3.4" fill="#00ff00"/>
<circle cx="687.5" cy="713.4" r="3.4" fill="#000000"/>
<circle cx="704.5" cy="713.4" r="3.4" fill="#000000"/>
<circle cx="721.5" cy="713.4" r="3.4" fill="#000000"/>
<circle cx="737.5" cy="713.4" r="3.4" fill="#000000"/>
<circle cx="754.5" cy="713.4" r="3.4" fill="#00ff00"/>
<circle cx="770.5" cy="713.4" r="3.4" fill="#00ff00"/>
<circle cx="787.5" cy="713.4" r="3.4" fill="#000000"/>
<circle cx="804.5" cy="713.4" r="3.4" fill="#000000"/>
<circle cx="820.5" cy="713.4" r="3.4" fill="#000000"/>
<circle cx="837.5" cy="713.4" r="3.4" fill="#000000"/>
<circle cx="853.5" cy="713.4" r="3.4" fill="#000000"/>
<circle cx="870.5" cy="713.4" r="3.4" fill="#ff0000"/>
<circle cx="887.5" cy="713.4" r="3.4" fill="#ff0000"/>
<circle cx="903.5" cy="713.4" r="3.4" fill="#ff0000"/>
<circle cx="920.5" cy="713.4" r="3.4" fill="#ff0000"/>
<circle cx="936.5" cy="713.4" r="3.4" fill="#ff0000"/>
<circle cx="953.5" cy="713.4" r="3.4" fill="#ff0000"/>
<circle cx="970.5" cy="713.4" r="3.4" fill="#ff0000"/>
<circle cx="986.5" cy="713.4" r="3.4" fill="#000000"/>
<circle cx="1003.5" cy="713.4" r="3.4" fill="#00ff00"/>
<circle cx="1020.5" cy="713.4" r="3.4" fill="#00ff00"/>
<circle cx="1036.5" cy="713.4" r="3.4" fill="#000000"/>
<circle cx="1053.5" cy="713.4" r="4.4" fill="#008000"/>
<circle cx="1069.5" cy="713.4" r="4.4" fill="#008000"/>
<circle cx="1086.5" cy="713.4" r="4.4" fill="#008000"/>
<circle cx="1103.5" cy="713.4" r="4.4" fill="#008000"/>
<circle cx="1119.5" cy="713.4" r="4.4" fill="#008000"/>
<circle cx="1136.5" cy="713.4" r="4.4" fill="#008000"/>
<circle cx="1152.5" cy="713.4" r="4.4" fill="#008000"/>
<circle cx="1169.5" cy="713.4" r="3.4" fill="#00ff00"/>
<circle cx="1186.5" cy="713.4" r="3.4" fill="#000000"/>
<circle cx="1202.5" cy="713.4" r="3.4" fill="#000000"/>
<circle cx="1219.5" cy="713.4" r="3.4" fill="#000000"/>
<circle cx="1235.5" cy="713.4" r="3.4" fill="#000000"/>
<circle cx="1252.5" cy="713.4" r="3.4" fill="#000000"/>
<circle cx="1269.5" cy="713.4" r="3.4" fill="#000000"/>
<circle cx="6.5" cy="745.4" r="4.5" fill="#ff6a00"/>
<circle cx="6.5" cy="745.4" r="4.1" fill="#ff0000"/>
<circle cx="23.5" cy="745.4" r="4.5" fill="#ff6a00"/>
<circle cx="23.5" cy="745.4" r="4.1" fill="#ff0000"/>
<circle cx="40.5" cy="745.4" r="4.5" fill="#ff6a00"/>
<circle cx="40.5" cy="745.4" r="4.1" fill="#ff0000"/>
<circle cx="56.5" cy="745.4" r="4.5" fill="#ff6a00"/>
<circle cx="56.5" cy="745.4" r="4.1" fill="#ff0000"/>
<circle cx="73.5" cy="745.4" r="4.5" fill="#ff6a00"/>
<circle cx="73.5" cy="745.4" r="4.1" fill="#ff0000"/>
<circle cx="89.5" cy="745.4" r="4.5" fill="#ff6a00"/>
<circle cx="89.5" cy="745.4" r="4.1" fill="#ff0000"/>
<circle cx="106.5" cy="745.4" r="4.5" fill="#ff6a00"/>
<circle cx="106.5" cy="745.4" r="4.1" fill="#ff0000"/>
<circle cx="123.5" cy="745.4" r="4.5" fill="#ff6a00"/>
<circle cx="123.5" cy="745.4" r="4.1" fill="#ff0000"/>
<circle cx="139.5" cy="745.4" r="4.5" fill="#ff6a00"/>
<circle cx="139.5" cy="745.4" r="4.1" fill="#ff0000"/>
<circle cx="156.5" cy="745.4" r="4.5" fill="#ff6a00"/>
<circle cx="156.5" cy="745.4" r="4.1" fill="#ff0000"/>
<circle cx="172.5" cy="745.4" r="4.5" fill="#ff6a00"/>
<circle cx="172.5" cy="745.4" r="4.1" fill="#ff0000"/>
<circle cx="189.5" cy="745.4" r="4.5" fill="#ffff00"/>
<circle cx="206.5" cy="745.4" r="4.5" fill="#ffff00"/>
<circle cx="222.5" cy="745.4" r="4.5" fill="#ffff00"/>
<circle cx="239.5" cy="745.4" r="4.5" fill="#ffff00"/>
<circle cx="255.5" cy="745.4" r="4.5" fill="#00ff00"/>
<circle cx="272.5" cy="745.4" r="4.5" fill="#00ff00"/>
<circle cx="289.5" cy="745.4" r="4.5" fill="#00ff00"/>
<circle cx="305.5" cy="745.4" r="4.5" fill="#00ff00"/>
<circle cx="322.5" cy="745.4" r="4.5" fill="#00ff00"/>
<circle cx="339.5" cy="745.4" r="4.5" fill="#00ff00"/>
<circle cx="355.5" cy="745.4" r="4.5" fill="#00ff00"/>
<circle cx="372.5" cy="745.4" r="4.5" fill="#00ff00"/>
<circle cx="388.5" cy="745.4" r="4.5" fill="#00ff00"/>
<circle cx="405.5" cy="745.4" r="4.5" fill="#00ff00"/>
<circle cx="422.5" cy="745.4" r="4.5" fill="#ffff00"/>
<circle cx="438.5" cy="745.4" r="4.5" fill="#00ff00"/>
<circle cx="455.5" cy="745.4" r="4.5" fill="#00ff00"/>
<circle cx="471.5" cy="745.4" r="4.5" fill="#00ff00"/>
<circle cx="488.5" cy="745.4" r="4.5" fill="#00ff00"/>
<circle cx="505.5" cy="745.4" r="4.5" fill="#00ff00"/>
<circle cx="521.5" cy="745.4" r="4.5" fill="#00ff00"/>
<circle cx="538.5" cy="745.4" r="4.5" fill="#00ff00"/>
<circle cx="554.5" cy="745.4" r="4.5" fill="#00ff00"/>
<circle cx="571.5" cy="745.4" r="4.5" fill="#00ff00"/>
<circle cx="588.5" cy="745.4" r="4.5" fill="#00ff00"/>
<circle cx="604.5" cy="745.4" r="4.5" fill="#00ff00"/>
<circle cx="621.5" cy="745.4" r="4.5" fill="#00ff00"/>
<circle cx="638.5" cy="745.4" r="4.5" fill="#00ff00"/>
<circle cx="654.5" cy="745.4" r="4.5" fill="#00ff00"/>
<circle cx="671.5" cy="745.4" r="4.5" fill="#ffff00"/>
<circle cx="687.5" cy="745.4" r="4.5" fill="#ffff00"/>
<circle cx="704.5" cy="745.4" r="4.5" fill="#ffff00"/>
<circle cx="721.5" cy="745.4" r="4.5" fill="#ffff00"/>
<circle cx="737.5" cy="745.4" r="4.5" fill="#ffff00"/>
<circle cx="754.5" cy="745.4" r="4.5" fill="#00ff00"/>
<circle cx="770.5" cy="745.4" r="4.5" fill="#00ff00"/>
<circle cx="787.5" cy="745.4" r="4.5" fill="#00ff00"/>
<circle cx="804.5" cy="745.4" r="4.5" fill="#00ff00"/>
<circle cx="820.5" cy="745.4" r="4.5" fill="#00ff00"/>
<circle cx="837.5" cy="745.4" r="4.5" fill="#00ff00"/>
<circle cx="853.5" cy="745.4" r="4.5" fill="#ffff00"/>
<circle cx="870.5" cy="745.4" r="4.5" fill="#ff6a00"/>
<circle cx="870.5" cy="745.4" r="4.1" fill="#ff0000"/>
<circle cx="887.5" cy="745.4" r="4.5" fill="#ff6a00"/>
<circle cx="887.5" cy="745.4" r="4.1" fill="#ff0000"/>
<circle cx="903.5" cy="745.4" r="4.5" fill="#ff6a00"/>
<circle cx="903.5" cy="745.4" r="4.1" fill="#ff0000"/>
<circle cx="920.5" cy="745.4" r="4.5" fill="#ff6a00"/>
<circle cx="920.5" cy="745.4" r="4.1" fill="#ff0000"/>
<circle cx="936.5" cy="745.4" r="4.5" fill="#ff6a00"/>
<circle cx="936.5" cy="745.4" r="4.1" fill="#ff0000"/>
<circle cx="953.5" cy="745.4" r="4.5" fill="#ff6a00"/>
<circle cx="953.5" cy="745.4" r="4.1" fill="#ff0000"/>
<circle cx="970.5" cy="745.4" r="4.5" fill="#ff6a00"/>
<circle cx="970.5" cy="745.4" r="4.1" fill="#ff0000"/>
<circle cx="986.5" cy="745.4" r="4.5" fill="#00ff00"/>
<circle cx="1003.5" cy="745.4" r="4.5" fill="#00ff00"/>
<circle cx="1020.5" cy="745.4" r="4.5" fill="#00ff00"/>
<circle cx="1036.5" cy="745.4" r="4.5" fill="#00ff00"/>
<circle cx="1053.5" cy="745.4" r="4.5" fill="#00ff00"/>
<circle cx="1069.5" cy="745.4" r="4.5" fill="#00ff00"/>
<circle cx="1086.5" cy="745.4" r="4.5" fill="#00ff00"/>
<circle cx="1103.5" cy="745.4" r="4.5" fill="#00ff00"/>
<circle cx="1119.5" cy="745.4" r="4.5" fill="#00ff00"/>
<circle cx="1136.5" cy="745.4" r="4.5" fill="#00ff00"/>
<circle cx="1152.5" cy="745.4" r="4.5" fill="#00ff00"/>
<circle cx="1169.5" cy="745.4" r="4.5" fill="#00ff00"/>
<circle cx="1186.5" cy="745.4" r="4.5" fill="#ffff00"/>
<circle cx="1202.5" cy="745.4" r="4.5" fill="#ffff00"/>
<circle cx="1219.5" cy="745.4" r="4.5" fill="#ffff00"/>
<circle cx="1235.5" cy="745.4" r="4.5" fill="#ffff00"/>
<circle cx="1252.5" cy="745.4" r="4.5" fill="#ffff00"/>
<circle cx="1269.5" cy="745.4" r="4.5" fill="#ffff00"/>
<circle cx="6.5" cy="758.3" r="4.5" fill="#000000"/>
<circle cx="23.5" cy="758.3" r="4.5" fill="#ff0000"/>
<circle cx="40.5" cy="758.3" r="4.5" fill="#ff0000"/>
<circle cx="56.5" cy="758.3" r="4.5" fill="#ff0000"/>
<circle cx="73.5" cy="758.3" r="4.5" fill="#ff0000"/>
<circle cx="89.5" cy="758.3" r="4.5" fill="#ff0000"/>
<circle cx="106.5" cy="758.3" r="4.5" fill="#ff0000"/>
<circle cx="123.5" cy="758.3" r="4.5" fill="#ff0000"/>
<circle cx="139.5" cy="758.3" r="4.5" fill="#000000"/>
<circle cx="156.5" cy="758.3" r="4.5" fill="#000000"/>
<circle cx="172.5" cy="758.3" r="4.5" fill="#000000"/>
<circle cx="189.5" cy="758.3" r="4.5" fill="#00ff00"/>
<circle cx="206.5" cy="758.3" r="4.5" fill="#00ff00"/>
<circle cx="222.5" cy="758.3" r="4.5" fill="#00ff00"/>
<circle cx="239.5" cy="758.3" r="4.5" fill="#000000"/>
<circle cx="255.5" cy="758.3" r="4.5" fill="#00ff00"/>
<circle cx="272.5" cy="758.3" r="4.5" fill="#00ff00"/>
<circle cx="289.5" cy="758.3" r="4.5" fill="#000000"/>
<circle cx="305.5" cy="758.3" r="4.5" fill="#000000"/>
<circle cx="322.5" cy="758.3" r="4.5" fill="#000000"/>
<circle cx="339.5" cy="758.3" r="4.5" fill="#000000"/>
<circle cx="355.5" cy="758.3" r="4.5" fill="#000000"/>
<circle cx="372.5" cy="758.3" r="4.5" fill="#000000"/>
<circle cx="388.5" cy="758.3" r="4.5" fill="#000000"/>
<circle cx="405.5" cy="758.3" r="4.5" fill="#000000"/>
<circle cx="422.5" cy="758.3" r="4.5" fill="#00ff00"/>
<circle cx="438.5" cy="758.3" r="4.5" fill="#ff0000"/>
<circle cx="455.5" cy="758.3" r="4.5" fill="#000000"/>
<circle cx="471.5" cy="758.3" r="4.5" fill="#ff0000"/>
<circle cx="488.5" cy="758.3" r="4.5" fill="#00ff00"/>
<circle cx="505.5" cy="758.3" r="4.5" fill="#00ff00"/>
<circle cx="521.5" cy="758.3" r="4.5" fill="#00ff00"/>
<circle cx="538.5" cy="758.3" r="4.5" fill="#00ff00"/>
<circle cx="554.5" cy="758.3" r="4.5" fill="#00ff00"/>
<circle cx="571.5" cy="758.3" r="4.5" fill="#000000"/>
<circle cx="588.5" cy="758.3" r="4.5" fill="#000000"/>
<circle cx="604.5" cy="758.3" r="4.5" fill="#000000"/>
<circle cx="621.5" cy="758.3" r="4.5" fill="#000000"/>
<circle cx="638.5" cy="758.3" r="4.5" fill="#000000"/>
<circle cx="654.5" cy="758.3" r="4.5" fill="#ff0000"/>
<circle cx="671.5" cy="758.3" r="4.5" fill="#ff0000"/>
<circle cx="687.5" cy="758.3" r="4.5" fill="#ff0000"/>
<circle cx="704.5" cy="758.3" r="4.5" fill="#ff0000"/>
<circle cx="721.5" cy="758.3" r="4.5" fill="#ff0000"/>
<circle cx="737.5" cy="758.3" r="4.5" fill="#ff0000"/>
<circle cx="754.5" cy="758.3" r="4.5" fill="#000000"/>
<circle cx="770.5" cy="758.3" r="4.5" fill="#00ff00"/>
<circle cx="787.5" cy="758.3" r="4.5" fill="#00ff00"/>
<circle cx="804.5" cy="758.3" r="4.5" fill="#00ff00"/>
<circle cx="820.5" cy="758.3" r="4.5" fill="#ff0000"/>
<circle cx="837.5" cy="758.3" r="4.5" fill="#ff0000"/>
<circle cx="853.5" cy="758.3" r="4.5" fill="#ff0000"/>
<circle cx="870.5" cy="758.3" r="4.5" fill="#ff0000"/>
<circle cx="887.5" cy="758.3" r="4.5" fill="#ff0000"/>
<circle cx="903.5" cy="758.3" r="4.5" fill="#ff0000"/>
<circle cx="920.5" cy="758.3" r="4.5" fill="#000000"/>
<circle cx="936.5" cy="758.3" r="4.5" fill="#ff0000"/>
<circle cx="953.5" cy="758.3" r="4.5" fill="#000000"/>
<circle cx="970.5" cy="758.3" r="4.5" fill="#000000"/>
<circle cx="986.5" cy="758.3" r="4.5" fill="#00ff00"/>
<circle cx="1003.5" cy="758.3" r="4.5" fill="#00ff00"/>
<circle cx="1020.5" cy="758.3" r="4.5" fill="#00ff00"/>
<circle cx="1036.5" cy="758.3" r="4.5" fill="#000000"/>
<circle cx="1053.5" cy="758.3" r="4.5" fill="#00ff00"/>
<circle cx="1069.5" cy="758.3" r="4.5" fill="#00ff00"/>
<circle cx="1086.5" cy="758.3" r="4.5" fill="#000000"/>
<circle cx="1103.5" cy="758.3" r="4.5" fill="#000000"/>
<circle cx="1119.5" cy="758.3" r="4.5" fill="#00ff00"/>
<circle cx="1136.5" cy="758.3" r="4.5" fill="#000000"/>
<circle cx="1152.5" cy="758.3" r="4.5" fill="#000000"/>
<circle cx="1169.5" cy="758.3" r="4.5" fill="#000000"/>
<circle cx="1186.5" cy="758.3" r="4.5" fill="#ff0000"/>
<circle cx="1202.5" cy="758.3" r="4.5" fill="#ff0000"/>
<circle cx="1219.5" cy="758.3" r="4.5" fill="#ff0000"/>
<circle cx="1235.5" cy="758.3" r="4.5" fill="#ff0000"/>
<circle cx="1252.5" cy="758.3" r="4.5" fill="#ff0000"/>
<circle cx="1269.5" cy="758.3" r="4.5" fill="#000000"/>
<circle cx="6.5" cy="771.2" r="4.5" fill="#00ff00"/>
<circle cx="23.5" cy="771.2" r="4.5" fill="#00ff00"/>
<circle cx="40.5" cy="771.2" r="4.5" fill="#00ff00"/>
<circle cx="56.5" cy="771.2" r="4.5" fill="#00ff00"/>
<circle cx="73.5" cy="771.2" r="4.5" fill="#00ff00"/>
<circle cx="89.5" cy="771.2" r="4.5" fill="#ff0000"/>
<circle cx="106.5" cy="771.2" r="4.5" fill="#ff0000"/>
<circle cx="123.5" cy="771.2" r="4.5" fill="#ff0000"/>
<circle cx="139.5" cy="771.2" r="4.5" fill="#ff0000"/>
<circle cx="156.5" cy="771.2" r="4.5" fill="#ff0000"/>
<circle cx="172.5" cy="771.2" r="4.5" fill="#ff0000"/>
<circle cx="189.5" cy="771.2" r="4.5" fill="#ff0000"/>
<circle cx="206.5" cy="771.2" r="4.5" fill="#ff0000"/>
<circle cx="222.5" cy="771.2" r="4.5" fill="#ff0000"/>
<circle cx="239.5" cy="771.2" r="4.5" fill="#ff0000"/>
<circle cx="255.5" cy="771.2" r="4.5" fill="#ff0000"/>
<circle cx="272.5" cy="771.2" r="4.5" fill="#ff0000"/>
<circle cx="289.5" cy="771.2" r="4.5" fill="#ff0000"/>
<circle cx="305.5" cy="771.2" r="4.5" fill="#ff0000"/>
<circle cx="322.5" cy="771.2" r="4.5" fill="#ff0000"/>
<circle cx="339.5" cy="771.2" r="4.5" fill="#ff0000"/>
<circle cx="355.5" cy="771.2" r="4.5" fill="#00ff00"/>
<circle cx="372.5" cy="771.2" r="4.5" fill="#00ff00"/>
<circle cx="388.5" cy="771.2" r="4.5" fill="#00ff00"/>
<circle cx="405.5" cy="771.2" r="4.5" fill="#00ff00"/>
<circle cx="422.5" cy="771.2" r="4.5" fill="#00ff00"/>
<circle cx="438.5" cy="771.2" r="4.5" fill="#00ff00"/>
<circle cx="455.5" cy="771.2" r="4.5" fill="#00ff00"/>
<circle cx="471.5" cy="771.2" r="4.5" fill="#00ff00"/>
<circle cx="488.5" cy="771.2" r="4.5" fill="#00ff00"/>
<circle cx="505.5" cy="771.2" r="4.5" fill="#00ff00"/>
<circle cx="521.5" cy="771.2" r="4.5" fill="#00ff00"/>
<circle cx="538.5" cy="771.2" r="4.5" fill="#00ff00"/>
<circle cx="554.5" cy="771.2" r="4.5" fill="#00ff00"/>
<circle cx="571.5" cy="771.2" r="4.5" fill="#00ff00"/>
<circle cx="588.5" cy="771.2" r="4.5" fill="#00ff00"/>
<circle cx="604.5" cy="771.2" r="4.5" fill="#00ff00"/>
<circle cx="621.5" cy="771.2" r="4.5" fill="#00ff00"/>
<circle cx="638.5" cy="771.2" r="4.5" fill="#00ff00"/>
<circle cx="654.5" cy="771.2" r="4.5" fill="#00ff00"/>
<circle cx="671.5" cy="771.2" r="4.5" fill="#00ff00"/>
<circle cx="687.5" cy="771.2" r="4.5" fill="#00ff00"/>
<circle cx="704.5" cy="771.2" r="4.5" fill="#00ff00"/>
<circle cx="721.5" cy="771.2" r="4.5" fill="#00ff00"/>
<circle cx="737.5" cy="771.2" r="4.5" fill="#00ff00"/>
<circle cx="754.5" cy="771.2" r="4.5" fill="#00ff00"/>
<circle cx="770.5" cy="771.2" r="4.5" fill="#00ff00"/>
<circle cx="787.5" cy="771.2" r="4.5" fill="#00ff00"/>
<circle cx="804.5" cy="771.2" r="4.5" fill="#00ff00"/>
<circle cx="820.5" cy="771.2" r="4.5" fill="#00ff00"/>
<circle cx="837.5" cy="771.2" r="4.5" fill="#00ff00"/>
<circle cx="853.5" cy="771.2" r="4.5" fill="#00ff00"/>
<circle cx="870.5" cy="771.2" r="4.5" fill="#00ff00"/>
<circle cx="887.5" cy="771.2" r="4.5" fill="#00ff00"/>
<circle cx="903.5" cy="771.2" r="4.5" fill="#00ff00"/>
<circle cx="920.5" cy="771.2" r="4.5" fill="#00ff00"/>
<circle cx="936.5" cy="771.2" r="4.5" fill="#00ff00"/>
<circle cx="953.5" cy="771.2" r="4.5" fill="#00ff00"/>
<circle cx="970.5" cy="771.2" r="4.5" fill="#00ff00"/>
<circle cx="986.5" cy="771.2" r="4.5" fill="#00ff00"/>
<circle cx="1003.5" cy="771.2" r="4.5" fill="#00ff00"/>
<circle cx="1020.5" cy="771.2" r="4.5" fill="#00ff00"/>
<circle cx="1036.5" cy="771.2" r="4.5" fill="#00ff00"/>
<circle cx="1053.5" cy="771.2" r="4.5" fill="#00ff00"/>
<circle cx="1069.5" cy="771.2" r="4.5" fill="#00ff00"/>
<circle cx="1086.5" cy="771.2" r="4.5" fill="#00ff00"/>
<circle cx="1103.5" cy="771.2" r="4.5" fill="#00ff00"/>
<circle cx="1119.5" cy="771.2" r="4.5" fill="#00ff00"/>
<circle cx="1136.5" cy="771.2" r="4.5" fill="#00ff00"/>
<circle cx="1152.5" cy="771.2" r="4.5" fill="#00ff00"/>
<circle cx="1169.5" cy="771.2" r="4.5" fill="#00ff00"/>
<circle cx="1186.5" cy="771.2" r="4.5" fill="#00ff00"/>
<circle cx="1202.5" cy="771.2" r="4.5" fill="#00ff00"/>
<circle cx="1219.5" cy="771.2" r="4.5" fill="#00ff00"/>
<circle cx="1235.5" cy="771.2" r="4.5" fill="#00ff00"/>
<circle cx="1252.5" cy="771.2" r="4.5" fill="#00ff00"/>
<circle cx="1269.5" cy="771.2" r="4.5" fill="#00ff00"/>
<circle cx="6.5" cy="784.3" r="4.5" fill="#000000"/>
<circle cx="23.5" cy="784.3" r="4.5" fill="#000000"/>
<circle cx="40.5" cy="784.3" r="4.5" fill="#ff0000"/>
<circle cx="56.5" cy="784.3" r="4.5" fill="#ff0000"/>
<circle cx="73.5" cy="784.3" r="4.5" fill="#ff0000"/>
<circle cx="89.5" cy="784.3" r="4.5" fill="#ff0000"/>
<circle cx="106.5" cy="784.3" r="4.5" fill="#ff0000"/>
<circle cx="123.5" cy="784.3" r="4.5" fill="#ff0000"/>
<circle cx="139.5" cy="784.3" r="4.5" fill="#ff0000"/>
<circle cx="156.5" cy="784.3" r="4.5" fill="#ff0000"/>
<circle cx="172.5" cy="784.3" r="4.5" fill="#ff0000"/>
<circle cx="189.5" cy="784.3" r="4.5" fill="#ff0000"/>
<circle cx="206.5" cy="784.3" r="4.5" fill="#000000"/>
<circle cx="222.5" cy="784.3" r="4.5" fill="#000000"/>
<circle cx="239.5" cy="784.3" r="4.5" fill="#000000"/>
<circle cx="255.5" cy="784.3" r="4.5" fill="#000000"/>
<circle cx="272.5" cy="784.3" r="4.5" fill="#000000"/>
<circle cx="289.5" cy="784.3" r="4.5" fill="#000000"/>
<circle cx="305.5" cy="784.3" r="4.5" fill="#000000"/>
<circle cx="322.5" cy="784.3" r="4.5" fill="#00ff00"/>
<circle cx="339.5" cy="784.3" r="4.5" fill="#00ff00"/>
<circle cx="355.5" cy="784.3" r="4.5" fill="#00ff00"/>
<circle cx="372.5" cy="784.3" r="4.5" fill="#00ff00"/>
<circle cx="388.5" cy="784.3" r="4.5" fill="#00ff00"/>
<circle cx="405.5" cy="784.3" r="4.5" fill="#00ff00"/>
<circle cx="422.5" cy="784.3" r="4.5" fill="#00ff00"/>
<circle cx="438.5" cy="784.3" r="4.5" fill="#00ff00"/>
<circle cx="455.5" cy="784.3" r="4.5" fill="#00ff00"/>
<circle cx="471.5" cy="784.3" r="4.5" fill="#00ff00"/>
<circle cx="488.5" cy="784.3" r="4.5" fill="#00ff00"/>
<circle cx="505.5" cy="784.3" r="4.5" fill="#00ff00"/>
<circle cx="521.5" cy="784.3" r="4.5" fill="#00ff00"/>
<circle cx="538.5" cy="784.3" r="4.5" fill="#00ff00"/>
<circle cx="554.5" cy="784.3" r="4.5" fill="#00ff00"/>
<circle cx="571.5" cy="784.3" r="4.5" fill="#00ff00"/>
<circle cx="588.5" cy="784.3" r="4.5" fill="#00ff00"/>
<circle cx="604.5" cy="784.3" r="4.5" fill="#00ff00"/>
<circle cx="621.5" cy="784.3" r="4.5" fill="#00ff00"/>
<circle cx="638.5" cy="784.3" r="4.5" fill="#00ff00"/>
<circle cx="654.5" cy="784.3" r="4.5" fill="#00ff00"/>
<circle cx="671.5" cy="784.3" r="4.5" fill="#00ff00"/>
<circle cx="687.5" cy="784.3" r="4.5" fill="#000000"/>
<circle cx="704.5" cy="784.3" r="4.5" fill="#000000"/>
<circle cx="721.5" cy="784.3" r="4.5" fill="#000000"/>
<circle cx="737.5" cy="784.3" r="4.5" fill="#000000"/>
<circle cx="754.5" cy="784.3" r="4.5" fill="#000000"/>
<circle cx="770.5" cy="784.3" r="4.5" fill="#000000"/>
<circle cx="787.5" cy="784.3" r="4.5" fill="#000000"/>
<circle cx="804.5" cy="784.3" r="4.5" fill="#000000"/>
<circle cx="820.5" cy="784.3" r="4.5" fill="#000000"/>
<circle cx="837.5" cy="784.3" r="4.5" fill="#000000"/>
<circle cx="853.5" cy="784.3" r="4.5" fill="#000000"/>
<circle cx="870.5" cy="784.3" r="4.5" fill="#000000"/>
<circle cx="887.5" cy="784.3" r="4.5" fill="#000000"/>
<circle cx="903.5" cy="784.3" r="4.5" fill="#000000"/>
<circle cx="920.5" cy="784.3" r="4.5" fill="#000000"/>
<circle cx="936.5" cy="784.3" r="4.5" fill="#ff0000"/>
<circle cx="953.5" cy="784.3" r="4.5" fill="#ff0000"/>
<circle cx="970.5" cy="784.3" r="4.5" fill="#ff0000"/>
<circle cx="986.5" cy="784.3" r="4.5" fill="#ff0000"/>
<circle cx="1003.5" cy="784.3" r="4.5" fill="#000000"/>
<circle cx="1020.5" cy="784.3" r="4.5" fill="#00ff00"/>
<circle cx="1036.5" cy="784.3" r="4.5" fill="#00ff00"/>
<circle cx="1053.5" cy="784.3" r="4.5" fill="#00ff00"/>
<circle cx="1069.5" cy="784.3" r="4.5" fill="#00ff00"/>
<circle cx="1086.5" cy="784.3" r="4.5" fill="#00ff00"/>
<circle cx="1103.5" cy="784.3" r="4.5" fill="#00ff00"/>
<circle cx="1119.5" cy="784.3" r="4.5" fill="#00ff00"/>
<circle cx="1136.5" cy="784.3" r="4.5" fill="#00ff00"/>
<circle cx="1152.5" cy="784.3" r="4.5" fill="#00ff00"/>
<circle cx="1169.5" cy="784.3" r="4.5" fill="#00ff00"/>
<circle cx="1186.5" cy="784.3" r="4.5" fill="#00ff00"/>
<circle cx="1202.5" cy="784.3" r="4.5" fill="#000000"/>
<circle cx="1219.5" cy="784.3" r="4.5" fill="#000000"/>
<circle cx="1235.5" cy="784.3" r="4.5" fill="#000000"/>
<circle cx="1252.5" cy="784.3" r="4.5" fill="#000000"/>
<circle cx="1269.5" cy="784.3" r="4.5" fill="#000000"/>
<circle cx="6.5" cy="797.3" r="4.5" fill="#ff0000"/>
<circle cx="23.5" cy="797.3" r="4.5" fill="#ff0000"/>
<circle cx="40.5" cy="797.3" r="4.5" fill="#ff0000"/>
<circle cx="56.5" cy="797.3" r="4.5" fill="#ff0000"/>
<circle cx="73.5" cy="797.3" r="4.5" fill="#ff0000"/>
<circle cx="89.5" cy="797.3" r="4.5" fill="#ff0000"/>
<circle cx="106.5" cy="797.3" r="4.5" fill="#ff0000"/>
<circle cx="123.5" cy="797.3" r="4.5" fill="#ff0000"/>
<circle cx="139.5" cy="797.3" r="4.5" fill="#ff0000"/>
<circle cx="156.5" cy="797.3" r="4.5" fill="#ff0000"/>
<circle cx="172.5" cy="797.3" r="4.5" fill="#ff0000"/>
<circle cx="189.5" cy="797.3" r="4.5" fill="#000000"/>
<circle cx="206.5" cy="797.3" r="4.5" fill="#000000"/>
<circle cx="222.5" cy="797.3" r="4.5" fill="#000000"/>
<circle cx="239.5" cy="797.3" r="4.5" fill="#000000"/>
<circle cx="255.5" cy="797.3" r="4.5" fill="#00ff00"/>
<circle cx="272.5" cy="797.3" r="4.5" fill="#00ff00"/>
<circle cx="289.5" cy="797.3" r="4.5" fill="#00ff00"/>
<circle cx="305.5" cy="797.3" r="4.5" fill="#00ff00"/>
<circle cx="322.5" cy="797.3" r="4.5" fill="#00ff00"/>
<circle cx="339.5" cy="797.3" r="4.5" fill="#00ff00"/>
<circle cx="355.5" cy="797.3" r="4.5" fill="#00ff00"/>
<circle cx="372.5" cy="797.3" r="4.5" fill="#00ff00"/>
<circle cx="388.5" cy="797.3" r="4.5" fill="#000000"/>
<circle cx="405.5" cy="797.3" r="4.5" fill="#000000"/>
<circle cx="422.5" cy="797.3" r="4.5" fill="#000000"/>
<circle cx="438.5" cy="797.3" r="4.5" fill="#000000"/>
<circle cx="455.5" cy="797.3" r="4.5" fill="#000000"/>
<circle cx="471.5" cy="797.3" r="4.5" fill="#000000"/>
<circle cx="488.5" cy="797.3" r="4.5" fill="#000000"/>
<circle cx="505.5" cy="797.3" r="4.5" fill="#000000"/>
<circle cx="521.5" cy="797.3" r="4.5" fill="#00ff00"/>
<circle cx="538.5" cy="797.3" r="4.5" fill="#00ff00"/>
<circle cx="554.5" cy="797.3" r="4.5" fill="#00ff00"/>
<circle cx="571.5" cy="797.3" r="4.5" fill="#00ff00"/>
<circle cx="588.5" cy="797.3" r="4.5" fill="#00ff00"/>
<circle cx="604.5" cy="797.3" r="4.5" fill="#00ff00"/>
<circle cx="621.5" cy="797.3" r="4.5" fill="#00ff00"/>
<circle cx="638.5" cy="797.3" r="4.5" fill="#00ff00"/>
<circle cx="654.5" cy="797.3" r="4.5" fill="#00ff00"/>
<circle cx="671.5" cy="797.3" r="4.5" fill="#000000"/>
<circle cx="687.5" cy="797.3" r="4.5" fill="#000000"/>
<circle cx="704.5" cy="797.3" r="4.5" fill="#000000"/>
<circle cx="721.5" cy="797.3" r="4.5" fill="#000000"/>
<circle cx="737.5" cy="797.3" r="4.5" fill="#000000"/>
<circle cx="754.5" cy="797.3" r="4.5" fill="#ff0000"/>
<circle cx="770.5" cy="797.3" r="4.5" fill="#000000"/>
<circle cx="787.5" cy="797.3" r="4.5" fill="#000000"/>
<circle cx="804.5" cy="797.3" r="4.5" fill="#00ff00"/>
<circle cx="820.5" cy="797.3" r="4.5" fill="#00ff00"/>
<circle cx="837.5" cy="797.3" r="4.5" fill="#000000"/>
<circle cx="853.5" cy="797.3" r="4.5" fill="#000000"/>
<circle cx="870.5" cy="797.3" r="4.5" fill="#ff0000"/>
<circle cx="887.5" cy="797.3" r="4.5" fill="#ff0000"/>
<circle cx="903.5" cy="797.3" r="4.5" fill="#ff0000"/>
<circle cx="920.5" cy="797.3" r="4.5" fill="#ff0000"/>
<circle cx="936.5" cy="797.3" r="4.5" fill="#ff0000"/>
<circle cx="953.5" cy="797.3" r="4.5" fill="#ff0000"/>
<circle cx="970.5" cy="797.3" r="4.5" fill="#ff0000"/>
<circle cx="986.5" cy="797.3" r="4.5" fill="#000000"/>
<circle cx="1003.5" cy="797.3" r="4.5" fill="#000000"/>
<circle cx="1020.5" cy="797.3" r="4.5" fill="#00ff00"/>
<circle cx="1036.5" cy="797.3" r="4.5" fill="#00ff00"/>
<circle cx="1053.5" cy="797.3" r="4.5" fill="#00ff00"/>
<circle cx="1069.5" cy="797.3" r="4.5" fill="#00ff00"/>
<circle cx="1086.5" cy="797.3" r="4.5" fill="#00ff00"/>
<circle cx="1103.5" cy="797.3" r="4.5" fill="#00ff00"/>
<circle cx="1119.5" cy="797.3" r="4.5" fill="#00ff00"/>
<circle cx="1136.5" cy="797.3" r="4.5" fill="#00ff00"/>
<circle cx="1152.5" cy="797.3" r="4.5" fill="#00ff00"/>
<circle cx="1169.5" cy="797.3" r="4.5" fill="#00ff00"/>
<circle cx="1186.5" cy="797.3" r="4.5" fill="#000000"/>
<circle cx="1202.5" cy="797.3" r="4.5" fill="#000000"/>
<circle cx="1219.5" cy="797.3" r="4.5" fill="#000000"/>
<circle cx="1235.5" cy="797.3" r="4.5" fill="#000000"/>
<circle cx="1252.5" cy="797.3" r="4.5" fill="#ff0000"/>
<circle cx="1269.5" cy="797.3" r="4.5" fill="#ff0000"/>
<circle cx="6.5" cy="810.3" r="4.5" fill="#00ff00"/>
<circle cx="23.5" cy="810.3" r="4.5" fill="#00ff00"/>
<circle cx="40.5" cy="810.3" r="4.5" fill="#000000"/>
<circle cx="56.5" cy="810.3" r="4.5" fill="#000000"/>
<circle cx="73.5" cy="810.3" r="4.5" fill="#ff0000"/>
<circle cx="89.5" cy="810.3" r="4.5" fill="#ff0000"/>
<circle cx="106.5" cy="810.3" r="4.5" fill="#ff0000"/>
<circle cx="123.5" cy="810.3" r="4.5" fill="#ff0000"/>
<circle cx="139.5" cy="810.3" r="4.5" fill="#ff0000"/>
<circle cx="156.5" cy="810.3" r="4.5" fill="#ff0000"/>
<circle cx="172.5" cy="810.3" r="4.5" fill="#ff0000"/>
<circle cx="189.5" cy="810.3" r="4.5" fill="#ff0000"/>
<circle cx="206.5" cy="810.3" r="4.5" fill="#ff0000"/>
<circle cx="222.5" cy="810.3" r="4.5" fill="#ff0000"/>
<circle cx="239.5" cy="810.3" r="4.5" fill="#ff0000"/>
<circle cx="255.5" cy="810.3" r="4.5" fill="#ff0000"/>
<circle cx="272.5" cy="810.3" r="4.5" fill="#ff0000"/>
<circle cx="289.5" cy="810.3" r="4.5" fill="#ff0000"/>
<circle cx="305.5" cy="810.3" r="4.5" fill="#ff0000"/>
<circle cx="322.5" cy="810.3" r="4.5" fill="#ffff00"/>
<circle cx="339.5" cy="810.3" r="4.5" fill="#ffff00"/>
<circle cx="355.5" cy="810.3" r="4.5" fill="#00ff00"/>
<circle cx="372.5" cy="810.3" r="4.5" fill="#00ff00"/>
<circle cx="388.5" cy="810.3" r="4.5" fill="#00ff00"/>
<circle cx="405.5" cy="810.3" r="4.5" fill="#00ff00"/>
<circle cx="422.5" cy="810.3" r="4.5" fill="#00ff00"/>
<circle cx="438.5" cy="810.3" r="4.5" fill="#00ff00"/>
<circle cx="455.5" cy="810.3" r="4.5" fill="#00ff00"/>
<circle cx="471.5" cy="810.3" r="4.5" fill="#00ff00"/>
<circle cx="488.5" cy="810.3" r="4.5" fill="#00ff00"/>
<circle cx="505.5" cy="810.3" r="4.5" fill="#00ff00"/>
<circle cx="521.5" cy="810.3" r="4.5" fill="#00ff00"/>
<circle cx="538.5" cy="810.3" r="4.5" fill="#00ff00"/>
<circle cx="554.5" cy="810.3" r="4.5" fill="#00ff00"/>
<circle cx="571.5" cy="810.3" r="4.5" fill="#00ff00"/>
<circle cx="588.5" cy="810.3" r="4.5" fill="#00ff00"/>
<circle cx="604.5" cy="810.3" r="4.5" fill="#00ff00"/>
<circle cx="621.5" cy="810.3" r="4.5" fill="#00ff00"/>
<circle cx="638.5" cy="810.3" r="4.5" fill="#00ff00"/>
<circle cx="654.5" cy="810.3" r="4.5" fill="#00ff00"/>
<circle cx="671.5" cy="810.3" r="4.5" fill="#00ff00"/>
<circle cx="687.5" cy="810.3" r="4.5" fill="#00ff00"/>
<circle cx="704.5" cy="810.3" r="4.5" fill="#00ff00"/>
<circle cx="721.5" cy="810.3" r="4.5" fill="#00ff00"/>
<circle cx="737.5" cy="810.3" r="4.5" fill="#00ff00"/>
<circle cx="754.5" cy="810.3" r="4.5" fill="#00ff00"/>
<circle cx="770.5" cy="810.3" r="4.5" fill="#00ff00"/>
<circle cx="787.5" cy="810.3" r="4.5" fill="#00ff00"/>
<circle cx="804.5" cy="810.3" r="4.5" fill="#00ff00"/>
<circle cx="820.5" cy="810.3" r="4.5" fill="#00ff00"/>
<circle cx="837.5" cy="810.3" r="4.5" fill="#00ff00"/>
<circle cx="853.5" cy="810.3" r="4.5" fill="#00ff00"/>
<circle cx="870.5" cy="810.3" r="4.5" fill="#00ff00"/>
<circle cx="887.5" cy="810.3" r="4.5" fill="#00ff00"/>
<circle cx="903.5" cy="810.3" r="4.5" fill="#00ff00"/>
<circle cx="920.5" cy="810.3" r="4.5" fill="#00ff00"/>
<circle cx="936.5" cy="810.3" r="4.5" fill="#000000"/>
<circle cx="953.5" cy="810.3" r="4.5" fill="#000000"/>
<circle cx="970.5" cy="810.3" r="4.5" fill="#ff0000"/>
<circle cx="986.5" cy="810.3" r="4.5" fill="#ff0000"/>
<circle cx="1003.5" cy="810.3" r="4.5" fill="#ff0000"/>
<circle cx="1020.5" cy="810.3" r="4.5" fill="#ffff00"/>
<circle cx="1036.5" cy="810.3" r="4.5" fill="#ffff00"/>
<circle cx="1053.5" cy="810.3" r="4.5" fill="#00ff00"/>
<circle cx="1069.5" cy="810.3" r="4.5" fill="#00ff00"/>
<circle cx="1086.5" cy="810.3" r="4.5" fill="#00ff00"/>
<circle cx="1103.5" cy="810.3" r="4.5" fill="#00ff00"/>
<circle cx="1119.5" cy="810.3" r="4.5" fill="#00ff00"/>
<circle cx="1136.5" cy="810.3" r="4.5" fill="#00ff00"/>
<circle cx="1152.5" cy="810.3" r="4.5" fill="#00ff00"/>
<circle cx="1169.5" cy="810.3" r="4.5" fill="#00ff00"/>
<circle cx="1186.5" cy="810.3" r="4.5" fill="#00ff00"/>
<circle cx="1202.5" cy="810.3" r="4.5" fill="#00ff00"/>
<circle cx="1219.5" cy="810.3" r="4.5" fill="#00ff00"/>
<circle cx="1235.5" cy="810.3" r="4.5" fill="#00ff00"/>
<circle cx="1252.5" cy="810.3" r="4.5" fill="#00ff00"/>
<circle cx="1269.5" cy="810.3" r="4.5" fill="#00ff00"/>
</g>
<text y="18.8" font-size="12.6"><tspan x="10.1" textLength="36.2" lengthAdjust="spacingAndGlyphs">fxhuhn</tspan> <tspan x="50.4" textLength="40.5" lengthAdjust="spacingAndGlyphs">created</tspan> <tspan x="95.6" textLength="23.0" lengthAdjust="spacingAndGlyphs">with</tspan> <tspan x="123.3" textLength="93.3" lengthAdjust="spacingAndGlyphs">TradingView.com,</tspan> <tspan x="221.8" textLength="15.0" lengthAdjust="spacingAndGlyphs">Jul</tspan> <tspan x="241.4" textLength="15.4" lengthAdjust="spacingAndGlyphs">18,</tspan> <tspan x="261.7" textLength="24.2" lengthAdjust="spacingAndGlyphs">2025</tspan> <tspan x="289.7" textLength="29.8" lengthAdjust="spacingAndGlyphs">08:48</tspan> <tspan x="323.5" textLength="33.8" lengthAdjust="spacingAndGlyphs">UTC+2</tspan></text>
<text y="45.8" font-size="12"><tspan x="18.2" textLength="60.6" lengthAdjust="spacingAndGlyphs">AUTO1 GRP</tspan> <tspan x="82.9" textLength="3.4" lengthAdjust="spacingAndGlyphs" font-weight="bold">·</tspan> <tspan x="91.0" textLength="13.3" lengthAdjust="spacingAndGlyphs">1D</tspan> <tspan x="108.1" textLength="3.4" lengthAdjust="spacingAndGlyphs" font-weight="bold">·</tspan> <tspan x="116.0" textLength="27.1" lengthAdjust="spacingAndGlyphs">XETR</tspan> <tspan x="150.7" textLength="7.3" lengthAdjust="spacingAndGlyphs">O</tspan><tspan x="158.6" textLength="28.6" lengthAdjust="spacingAndGlyphs" style="fill:#1fa193">25.72</tspan> <tspan x="195.1" textLength="7.4" lengthAdjust="spacingAndGlyphs">H</tspan><tspan x="203.1" textLength="29.2" lengthAdjust="spacingAndGlyphs" style="fill:#1fa193">25.84</tspan> <tspan x="240.6" textLength="5.0" lengthAdjust="spacingAndGlyphs">L</tspan><tspan x="246.3" textLength="28.8" lengthAdjust="spacingAndGlyphs" style="fill:#1fa193">25.38</tspan> <tspan x="282.6" textLength="6.6" lengthAdjust="spacingAndGlyphs">C</tspan><tspan x="290.2" textLength="28.6" lengthAdjust="spacingAndGlyphs" style="fill:#1fa193">25.84</tspan> <tspan x="327.2" textLength="28.1" lengthAdjust="spacingAndGlyphs" style="fill:#1fa193">+0.42</tspan> <tspan x="360.8" textLength="44.1" lengthAdjust="spacingAndGlyphs" style="fill:#1fa193">(+1.65%)</tspan> <tspan x="413.3" textLength="15.2" lengthAdjust="spacingAndGlyphs">Vol</tspan><tspan x="429.3" textLength="43.7" lengthAdjust="spacingAndGlyphs" style="fill:#1fa193">205.21 K</tspan></text>
<text y="62.6" font-size="12"><tspan x="18.2" textLength="15.2" lengthAdjust="spacingAndGlyphs">Vol</tspan> <tspan x="41.9" textLength="44.5" lengthAdjust="spacingAndGlyphs" style="fill:#1fa193">205.21 K</tspan></text>
<text y="79.5" font-size="12"><tspan x="18.3" textLength="23.6" lengthAdjust="spacingAndGlyphs">Croc</tspan> <tspan x="45.8" textLength="16.2" lengthAdjust="spacingAndGlyphs">3.0</tspan> <tspan x="67.2" textLength="28.0" lengthAdjust="spacingAndGlyphs">Chart</tspan> <tspan x="100.4" textLength="3.2" lengthAdjust="spacingAndGlyphs">-</tspan> <tspan x="107.4" textLength="27.1" lengthAdjust="spacingAndGlyphs">Basic</tspan></text>
<text x="1481.3" y="639.5" font-size="12" textLength="29.2" lengthAdjust="spacingAndGlyphs">16.00</text>
<text x="1481.3" y="601.5" font-size="12" textLength="29.2" lengthAdjust="spacingAndGlyphs">17.00</text>
<text x="1481.3" y="562.5" font-size="12" textLength="29.2" lengthAdjust="spacingAndGlyphs">18.00</text>
<text x="1481.3" y="524.5" font-size="12" textLength="29.2" lengthAdjust="spacingAndGlyphs">19.00</text>
<text x="1481.3" y="486.5" font-size="12" textLength="29.2" lengthAdjust="spacingAndGlyphs">20.00</text>
<text x="1481.3" y="447.5" font-size="12" textLength="29.2" lengthAdjust="spacingAndGlyphs">21.00</text>
<text x="1481.3" y="409.5" font-size="12" textLength="29.2" lengthAdjust="spacingAndGlyphs">22.00</text>
<text x="1481.3" y="370.5" font-size="12" textLength="29.2" lengthAdjust="spacingAndGlyphs">23.00</text>
<text x="1481.3" y="332.5" font-size="12" textLength="29.2" lengthAdjust="spacingAndGlyphs">24.00</text>
<text x="1481.3" y="293.5" font-size="12" textLength="29.2" lengthAdjust="spacingAndGlyphs">25.00</text>
<text x="1481.3" y="255.5" font-size="12" textLength="29.2" lengthAdjust="spacingAndGlyphs">26.00</text>
<text x="1481.3" y="216.5" font-size="12" textLength="29.2" lengthAdjust="spacingAndGlyphs">27.00</text>
<text x="1481.3" y="178.5" font-size="12" textLength="29.2" lengthAdjust="spacingAndGlyphs">28.00</text>
<text x="1481.3" y="139.5" font-size="12" textLength="29.2" lengthAdjust="spacingAndGlyphs">29.00</text>
<text x="1481.3" y="101.5" font-size="12" textLength="29.2" lengthAdjust="spacingAndGlyphs">30.00</text>
<text x="1481.3" y="63.5" font-size="12" textLength="29.2" lengthAdjust="spacingAndGlyphs">31.00</text>
<text x="1481.3" y="704.7" font-size="12" textLength="29.2" lengthAdjust="spacingAndGlyphs">15.00</text>
<text x="1481.3" y="736.2" font-size="12" textLength="29.2" lengthAdjust="spacingAndGlyphs">12.50</text>
<text x="1481.3" y="768.7" font-size="12" textLength="35.3" lengthAdjust="spacingAndGlyphs">10.000</text>
<text x="1481.3" y="801.0" font-size="12" textLength="29.2" lengthAdjust="spacingAndGlyphs">7.500</text>
<rect x="1474" y="29" width="60" height="30.6" fill="#fff"/>
<rect x="1476" y="31" width="55.6" height="25.8" rx="4" fill="#fff" stroke="#f0f0f0" stroke-width="1.4"/>
<text x="1485.0" y="48.6" font-size="12" textLength="21.5" lengthAdjust="spacingAndGlyphs">EUR</text>
<path d="M1473 249.2h40.9a2 2 0 0 1 2 2v12.7a2 2 0 0 1 -2 2h-40.9z" fill="#000"/>
<text x="1480.9" y="262.1" font-size="12" textLength="29.7" lengthAdjust="spacingAndGlyphs" style="fill:#fff" font-weight="bold">25.84</text>
<path d="M1473 664.2h55.6a2 2 0 0 1 2 2v12.3a2 2 0 0 1 -2 2h-55.6z" fill="#26a69a"/>
<text x="1481.0" y="676.7" font-size="12" textLength="44.6" lengthAdjust="spacingAndGlyphs" style="fill:#fff" font-weight="bold">205.21 K</text>
<text x="40.5" y="839.0" font-size="12" font-weight="bold" text-anchor="middle">Apr</text>
<text x="106.5" y="839.0" font-size="12" text-anchor="middle">7</text>
<text x="172.5" y="839.0" font-size="12" text-anchor="middle">11</text>
<text x="239.5" y="839.0" font-size="12" text-anchor="middle">17</text>
<text x="305.5" y="839.0" font-size="12" text-anchor="middle">25</text>
<text x="372.5" y="839.0" font-size="12" font-weight="bold" text-anchor="middle">May</text>
<text x="438.5" y="839.0" font-size="12" text-anchor="middle">8</text>
<text x="505.5" y="839.0" font-size="12" text-anchor="middle">14</text>
<text x="571.5" y="839.0" font-size="12" text-anchor="middle">20</text>
<text x="638.5" y="839.0" font-size="12" text-anchor="middle">26</text>
<text x="721.5" y="839.0" font-size="12" font-weight="bold" text-anchor="middle">Jun</text>
<text x="787.5" y="839.0" font-size="12" text-anchor="middle">6</text>
<text x="853.5" y="839.0" font-size="12" text-anchor="middle">12</text>
<text x="920.5" y="839.0" font-size="12" text-anchor="middle">18</text>
<text x="986.5" y="839.0" font-size="12" text-anchor="middle">24</text>
<text x="1069.5" y="839.0" font-size="12" font-weight="bold" text-anchor="middle">Jul</text>
<text x="1136.5" y="839.0" font-size="12" text-anchor="middle">7</text>
<text x="1202.5" y="839.0" font-size="12" text-anchor="middle">11</text>
<text x="1269.5" y="839.0" font-size="12" text-anchor="middle">17</text>
<text x="1335.5" y="839.0" font-size="12" text-anchor="middle">23</text>
<text x="1451.5" y="839.0" font-size="12" font-weight="bold" text-anchor="middle">Aug</text>
<rect x="10.2" y="26.6" width="1525.7" height="822.3" fill="none" stroke="#efefef" stroke-width="1.8"/>
<rect x="10.5" y="742.9" width="1" height="5" fill="#ff0000" fill-opacity="0.55"/>
<rect x="10.5" y="755.8" width="1" height="5" fill="#000000" fill-opacity="0.55"/>
<rect x="10.5" y="768.7" width="1" height="5" fill="#00ff00" fill-opacity="0.55"/>
<rect x="10.5" y="781.8" width="1" height="5" fill="#000000" fill-opacity="0.55"/>
<rect x="10.5" y="794.8" width="1" height="5" fill="#ff0000" fill-opacity="0.55"/>
<rect x="10.5" y="807.8" width="1" height="5" fill="#00ff00" fill-opacity="0.55"/>
<g transform="translate(10.1,858.9) scale(0.555,0.54)" fill="#131722"><path d="M14 22H7V11H0V4h14v18z"/><circle cx="20" cy="8" r="4"/><path d="M28 22h-8l7.5-18h8L28 22z"/></g>
<text x="33.6" y="870.6" font-size="13" textLength="69.8" lengthAdjust="spacingAndGlyphs">TradingView</text>
</svg></body></html>
